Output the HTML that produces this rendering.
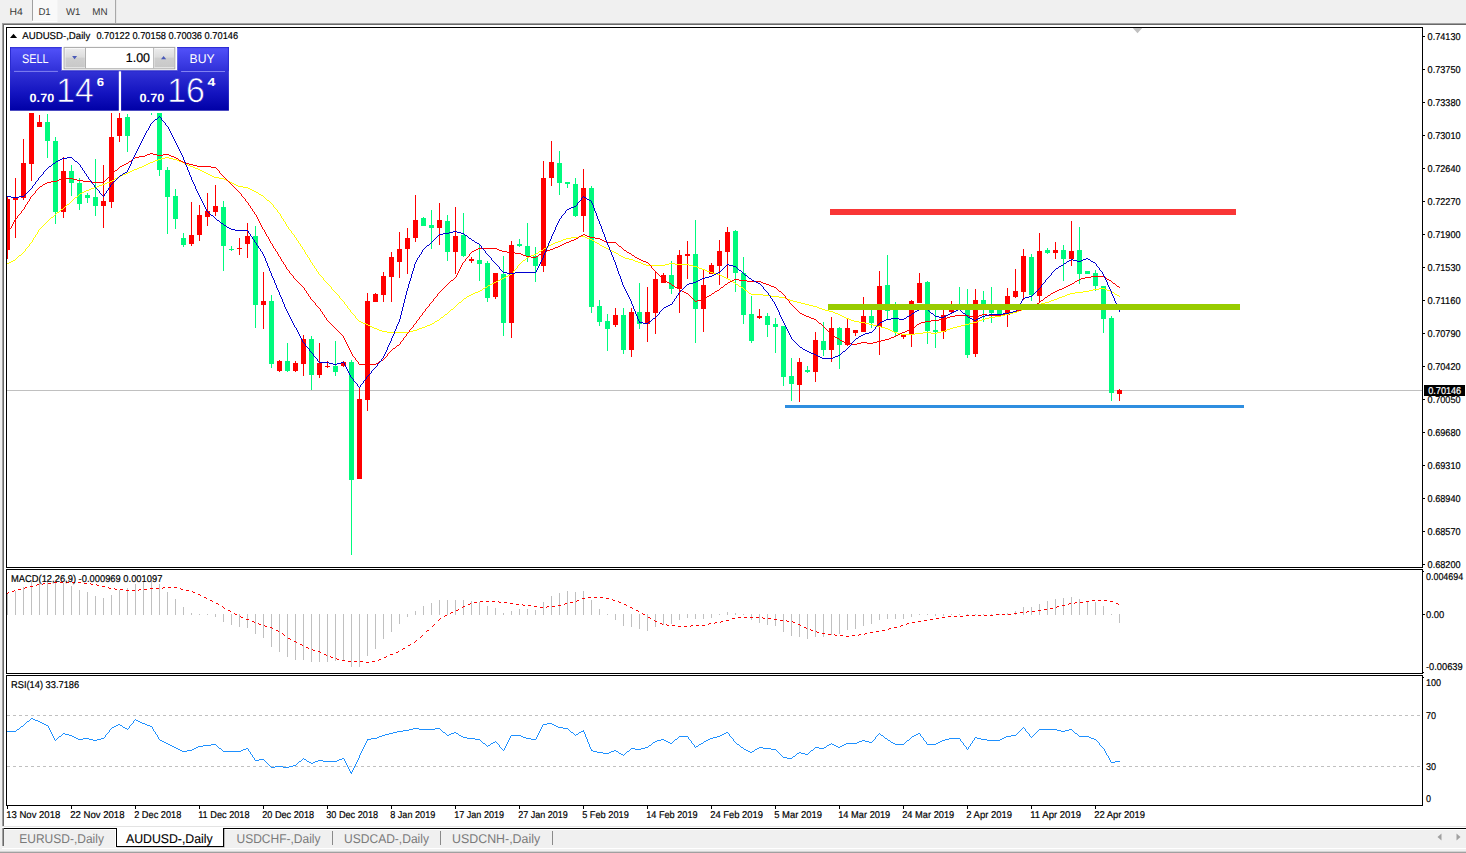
<!DOCTYPE html>
<html><head><meta charset="utf-8"><title>AUDUSD-,Daily</title>
<style>
html,body{margin:0;padding:0;background:#f0f0f0;overflow:hidden}
svg{display:block;font-family:"Liberation Sans",sans-serif;text-rendering:geometricPrecision}
text{white-space:pre}
</style></head><body>
<svg width="1466" height="853" viewBox="0 0 1466 853">
<rect x="0" y="0" width="1466" height="853" fill="#f0f0f0" />
<rect x="32" y="0" width="1" height="20.8" fill="#a0a0a0" />
<rect x="33" y="0" width="24.4" height="20.8" fill="#f9f9f9" />
<rect x="32" y="20.8" width="25.4" height="1.2" fill="#ffffff" />
<rect x="115.1" y="0" width="1" height="23" fill="#a0a0a0" />
<text x="9.4" y="15" font-size="9.9" fill="#3a3a3a" textLength="13.3" lengthAdjust="spacingAndGlyphs" >H4</text>
<text x="38.4" y="15" font-size="9.9" fill="#3a3a3a" textLength="12.3" lengthAdjust="spacingAndGlyphs" >D1</text>
<text x="65.9" y="15" font-size="9.9" fill="#3a3a3a" textLength="14.5" lengthAdjust="spacingAndGlyphs" >W1</text>
<text x="92.3" y="15" font-size="9.9" fill="#3a3a3a" textLength="15.3" lengthAdjust="spacingAndGlyphs" >MN</text>
<rect x="2" y="23" width="1464" height="1" fill="#a0a0a0" />
<rect x="3" y="24" width="1463" height="1" fill="#696969" />
<rect x="2" y="23" width="1" height="804" fill="#a0a0a0" />
<rect x="3" y="24" width="1" height="803" fill="#696969" />
<rect x="4" y="25" width="1462" height="801" fill="#ffffff" />
<g shape-rendering="crispEdges">
<rect x="6" y="27" width="1" height="541" fill="#000" />
<rect x="6" y="27" width="1417" height="1" fill="#000" />
<rect x="6" y="567" width="1417" height="1" fill="#000" />
<rect x="1422" y="27" width="1" height="541" fill="#000" />
<rect x="6" y="569" width="1417" height="1" fill="#000" />
<rect x="6" y="569" width="1" height="105" fill="#000" />
<rect x="6" y="673" width="1417" height="1" fill="#000" />
<rect x="1422" y="569" width="1" height="105" fill="#000" />
<rect x="6" y="675" width="1417" height="1" fill="#000" />
<rect x="6" y="675" width="1" height="131" fill="#000" />
<rect x="6" y="805" width="1417" height="1" fill="#000" />
<rect x="1422" y="675" width="1" height="131" fill="#000" />
</g>
<clipPath id="cm"><rect x="7" y="28" width="1415" height="539"/></clipPath>
<g clip-path="url(#cm)">
<rect x="7" y="390" width="1415" height="1" fill="#c0c0c0" />
<g shape-rendering="crispEdges">
<rect x="7" y="196" width="1" height="62.75" fill="#ff0000" />
<rect x="5" y="198.75" width="5" height="51.25" fill="#ff0000" />
<rect x="15" y="178.25" width="1" height="59.25" fill="#ff0000" />
<rect x="13" y="198" width="5" height="2" fill="#ff0000" />
<rect x="23" y="138.75" width="1" height="61.25" fill="#ff0000" />
<rect x="21" y="163" width="5" height="35" fill="#ff0000" />
<rect x="31" y="100" width="1" height="81.25" fill="#ff0000" />
<rect x="29" y="100" width="5" height="63.75" fill="#ff0000" />
<rect x="39" y="114.8" width="1" height="12.2" fill="#ff0000" />
<rect x="37" y="121.9" width="5" height="5" fill="#ff0000" />
<rect x="47" y="114" width="1" height="43.5" fill="#00fa7d" />
<rect x="45" y="121.9" width="5" height="19.35" fill="#00fa7d" />
<rect x="55" y="137" width="1" height="86.75" fill="#00fa7d" />
<rect x="53" y="141.25" width="5" height="70.5" fill="#00fa7d" />
<rect x="63" y="157" width="1" height="61" fill="#ff0000" />
<rect x="61" y="171.25" width="5" height="40.5" fill="#ff0000" />
<rect x="71" y="165" width="1" height="31.25" fill="#00fa7d" />
<rect x="69" y="171.25" width="5" height="11.75" fill="#00fa7d" />
<rect x="79" y="177.5" width="1" height="32.5" fill="#00fa7d" />
<rect x="77" y="182.5" width="5" height="21.25" fill="#00fa7d" />
<rect x="87" y="193" width="1" height="10" fill="#00fa7d" />
<rect x="85" y="195" width="5" height="2.5" fill="#00fa7d" />
<rect x="95" y="159.25" width="1" height="56.5" fill="#00fa7d" />
<rect x="93" y="197" width="5" height="9.25" fill="#00fa7d" />
<rect x="103" y="165" width="1" height="63" fill="#ff0000" />
<rect x="101" y="201.25" width="5" height="5" fill="#ff0000" />
<rect x="111" y="100" width="1" height="108" fill="#ff0000" />
<rect x="109" y="137" width="5" height="65" fill="#ff0000" />
<rect x="119" y="100" width="1" height="42" fill="#ff0000" />
<rect x="117" y="117.9" width="5" height="17.85" fill="#ff0000" />
<rect x="127" y="113.75" width="1" height="38.25" fill="#00fa7d" />
<rect x="125" y="116.9" width="5" height="18.85" fill="#00fa7d" />
<rect x="151" y="100" width="1" height="14.5" fill="#00fa7d" />
<rect x="149" y="100" width="5" height="5" fill="#00fa7d" />
<rect x="159" y="100" width="1" height="75.5" fill="#00fa7d" />
<rect x="157" y="100" width="5" height="69.5" fill="#00fa7d" />
<rect x="167" y="167" width="1" height="66.75" fill="#00fa7d" />
<rect x="165" y="169.5" width="5" height="27.5" fill="#00fa7d" />
<rect x="175" y="188.75" width="1" height="40" fill="#00fa7d" />
<rect x="173" y="196.25" width="5" height="22.5" fill="#00fa7d" />
<rect x="183" y="232.5" width="1" height="14.5" fill="#00fa7d" />
<rect x="181" y="238" width="5" height="7" fill="#00fa7d" />
<rect x="191" y="202" width="1" height="44.25" fill="#ff0000" />
<rect x="189" y="234.5" width="5" height="9.25" fill="#ff0000" />
<rect x="199" y="204.5" width="1" height="36.75" fill="#ff0000" />
<rect x="197" y="215" width="5" height="20" fill="#ff0000" />
<rect x="207" y="193" width="1" height="33.25" fill="#ff0000" />
<rect x="205" y="211.25" width="5" height="5.75" fill="#ff0000" />
<rect x="215" y="185" width="1" height="30.5" fill="#ff0000" />
<rect x="213" y="206.25" width="5" height="5.75" fill="#ff0000" />
<rect x="223" y="201.25" width="1" height="70" fill="#00fa7d" />
<rect x="221" y="207" width="5" height="38.75" fill="#00fa7d" />
<rect x="231" y="245.75" width="1" height="5.5" fill="#00fa7d" />
<rect x="229" y="248.5" width="5" height="1" fill="#00fa7d" />
<rect x="239" y="238" width="1" height="17" fill="#ff0000" />
<rect x="237" y="247.5" width="5" height="1.5" fill="#ff0000" />
<rect x="247" y="223" width="1" height="35" fill="#ff0000" />
<rect x="245" y="236.25" width="5" height="8" fill="#ff0000" />
<rect x="255" y="226.25" width="1" height="101.25" fill="#00fa7d" />
<rect x="253" y="236.25" width="5" height="68.25" fill="#00fa7d" />
<rect x="263" y="272" width="1" height="56.75" fill="#ff0000" />
<rect x="261" y="300.75" width="5" height="3.75" fill="#ff0000" />
<rect x="271" y="295" width="1" height="72.5" fill="#00fa7d" />
<rect x="269" y="300.75" width="5" height="63" fill="#00fa7d" />
<rect x="279" y="359.5" width="1" height="12.5" fill="#ff0000" />
<rect x="277" y="361.25" width="5" height="9.25" fill="#ff0000" />
<rect x="287" y="343" width="1" height="29" fill="#00fa7d" />
<rect x="285" y="361.25" width="5" height="9.25" fill="#00fa7d" />
<rect x="295" y="361.25" width="1" height="10.75" fill="#ff0000" />
<rect x="293" y="363.25" width="5" height="7.25" fill="#ff0000" />
<rect x="303" y="335" width="1" height="40.5" fill="#ff0000" />
<rect x="301" y="339.25" width="5" height="24.5" fill="#ff0000" />
<rect x="311" y="336.25" width="1" height="53.75" fill="#00fa7d" />
<rect x="309" y="338.75" width="5" height="35.75" fill="#00fa7d" />
<rect x="319" y="343" width="1" height="35" fill="#ff0000" />
<rect x="317" y="362.5" width="5" height="12.5" fill="#ff0000" />
<rect x="327" y="361.25" width="1" height="6.75" fill="#ff0000" />
<rect x="325" y="365.75" width="5" height="1" fill="#ff0000" />
<rect x="335" y="341.25" width="1" height="34.5" fill="#00fa7d" />
<rect x="333" y="365.75" width="5" height="6" fill="#00fa7d" />
<rect x="343" y="360.5" width="1" height="6.5" fill="#ff0000" />
<rect x="341" y="361.75" width="5" height="4.5" fill="#ff0000" />
<rect x="351" y="360" width="1" height="195" fill="#00fa7d" />
<rect x="349" y="362" width="5" height="117.5" fill="#00fa7d" />
<rect x="359" y="388" width="1" height="90.75" fill="#ff0000" />
<rect x="357" y="399.25" width="5" height="79.5" fill="#ff0000" />
<rect x="367" y="293" width="1" height="117.75" fill="#ff0000" />
<rect x="365" y="301.25" width="5" height="98.25" fill="#ff0000" />
<rect x="375" y="292.8" width="1" height="8.7" fill="#ff0000" />
<rect x="373" y="294.3" width="5" height="7.2" fill="#ff0000" />
<rect x="383" y="271.6" width="1" height="30.7" fill="#ff0000" />
<rect x="381" y="276" width="5" height="18.8" fill="#ff0000" />
<rect x="391" y="251.9" width="1" height="49.7" fill="#ff0000" />
<rect x="389" y="257.4" width="5" height="19.2" fill="#ff0000" />
<rect x="399" y="232.4" width="1" height="45.4" fill="#ff0000" />
<rect x="397" y="249.1" width="5" height="12.5" fill="#ff0000" />
<rect x="407" y="228.2" width="1" height="46.1" fill="#ff0000" />
<rect x="405" y="237.9" width="5" height="11.2" fill="#ff0000" />
<rect x="415" y="195.4" width="1" height="47" fill="#ff0000" />
<rect x="413" y="220.2" width="5" height="17.7" fill="#ff0000" />
<rect x="423" y="217" width="1" height="8.7" fill="#00fa7d" />
<rect x="421" y="217.9" width="5" height="7.8" fill="#00fa7d" />
<rect x="431" y="210" width="1" height="38.6" fill="#00fa7d" />
<rect x="429" y="224.9" width="5" height="3" fill="#00fa7d" />
<rect x="439" y="203" width="1" height="41.9" fill="#ff0000" />
<rect x="437" y="220.2" width="5" height="7.7" fill="#ff0000" />
<rect x="447" y="215" width="1" height="45.6" fill="#00fa7d" />
<rect x="445" y="221.2" width="5" height="30.4" fill="#00fa7d" />
<rect x="455" y="207" width="1" height="67.1" fill="#ff0000" />
<rect x="453" y="236.1" width="5" height="15.5" fill="#ff0000" />
<rect x="463" y="213" width="1" height="43.9" fill="#00fa7d" />
<rect x="461" y="234.9" width="5" height="21.2" fill="#00fa7d" />
<rect x="471" y="257.4" width="1" height="5.5" fill="#ff0000" />
<rect x="469" y="258.9" width="5" height="1.7" fill="#ff0000" />
<rect x="479" y="243.6" width="1" height="37" fill="#00fa7d" />
<rect x="477" y="259.9" width="5" height="3.7" fill="#00fa7d" />
<rect x="487" y="261.1" width="1" height="40.5" fill="#00fa7d" />
<rect x="485" y="263.1" width="5" height="34.7" fill="#00fa7d" />
<rect x="495" y="273.1" width="1" height="25.5" fill="#ff0000" />
<rect x="493" y="273.1" width="5" height="23.7" fill="#ff0000" />
<rect x="503" y="256.1" width="1" height="79.9" fill="#00fa7d" />
<rect x="501" y="273.6" width="5" height="49.2" fill="#00fa7d" />
<rect x="511" y="241.1" width="1" height="96.7" fill="#ff0000" />
<rect x="509" y="244.9" width="5" height="77.9" fill="#ff0000" />
<rect x="519" y="238.6" width="1" height="8.3" fill="#00fa7d" />
<rect x="517" y="243.6" width="5" height="2" fill="#00fa7d" />
<rect x="527" y="222.9" width="1" height="39.5" fill="#00fa7d" />
<rect x="525" y="246.1" width="5" height="10" fill="#00fa7d" />
<rect x="535" y="246.9" width="1" height="34.9" fill="#00fa7d" />
<rect x="533" y="256.1" width="5" height="9.5" fill="#00fa7d" />
<rect x="543" y="161.2" width="1" height="110.6" fill="#ff0000" />
<rect x="541" y="178.2" width="5" height="87.4" fill="#ff0000" />
<rect x="551" y="141" width="1" height="44.7" fill="#ff0000" />
<rect x="549" y="161.7" width="5" height="16.5" fill="#ff0000" />
<rect x="559" y="151.2" width="1" height="43.7" fill="#00fa7d" />
<rect x="557" y="163.2" width="5" height="19.3" fill="#00fa7d" />
<rect x="567" y="182" width="1" height="6" fill="#00fa7d" />
<rect x="565" y="182" width="5" height="1.7" fill="#00fa7d" />
<rect x="575" y="178" width="1" height="38.9" fill="#00fa7d" />
<rect x="573" y="184.2" width="5" height="32" fill="#00fa7d" />
<rect x="583" y="168.7" width="1" height="63.7" fill="#ff0000" />
<rect x="581" y="188" width="5" height="27.7" fill="#ff0000" />
<rect x="591" y="186.2" width="1" height="126.6" fill="#00fa7d" />
<rect x="589" y="188" width="5" height="118.6" fill="#00fa7d" />
<rect x="599" y="299.8" width="1" height="25.7" fill="#00fa7d" />
<rect x="597" y="306" width="5" height="15.8" fill="#00fa7d" />
<rect x="607" y="314" width="1" height="37" fill="#00fa7d" />
<rect x="605" y="321" width="5" height="7.5" fill="#00fa7d" />
<rect x="615" y="307.8" width="1" height="19" fill="#ff0000" />
<rect x="613" y="314.8" width="5" height="10" fill="#ff0000" />
<rect x="623" y="307.8" width="1" height="45.7" fill="#00fa7d" />
<rect x="621" y="314.8" width="5" height="35" fill="#00fa7d" />
<rect x="631" y="307.8" width="1" height="48.9" fill="#ff0000" />
<rect x="629" y="311.8" width="5" height="38" fill="#ff0000" />
<rect x="639" y="283.1" width="1" height="46.2" fill="#00fa7d" />
<rect x="637" y="312.3" width="5" height="11.2" fill="#00fa7d" />
<rect x="647" y="286.8" width="1" height="55" fill="#ff0000" />
<rect x="645" y="312.3" width="5" height="11.2" fill="#ff0000" />
<rect x="655" y="272.3" width="1" height="61.2" fill="#ff0000" />
<rect x="653" y="279.1" width="5" height="33.9" fill="#ff0000" />
<rect x="663" y="272.8" width="1" height="10" fill="#ff0000" />
<rect x="661" y="274.8" width="5" height="8" fill="#ff0000" />
<rect x="671" y="261.1" width="1" height="32.5" fill="#00fa7d" />
<rect x="669" y="274.8" width="5" height="13.8" fill="#00fa7d" />
<rect x="679" y="249.9" width="1" height="62.9" fill="#ff0000" />
<rect x="677" y="254.9" width="5" height="33.7" fill="#ff0000" />
<rect x="687" y="241.1" width="1" height="38.2" fill="#ff0000" />
<rect x="685" y="254.1" width="5" height="1.5" fill="#ff0000" />
<rect x="695" y="220.4" width="1" height="122.4" fill="#00fa7d" />
<rect x="693" y="254.1" width="5" height="54.5" fill="#00fa7d" />
<rect x="703" y="269.9" width="1" height="61.9" fill="#ff0000" />
<rect x="701" y="284.8" width="5" height="23.8" fill="#ff0000" />
<rect x="711" y="262.9" width="1" height="10.8" fill="#ff0000" />
<rect x="709" y="264.9" width="5" height="8.8" fill="#ff0000" />
<rect x="719" y="240" width="1" height="44.9" fill="#ff0000" />
<rect x="717" y="251.2" width="5" height="14.5" fill="#ff0000" />
<rect x="727" y="227" width="1" height="50.9" fill="#ff0000" />
<rect x="725" y="231.7" width="5" height="20" fill="#ff0000" />
<rect x="735" y="229.5" width="1" height="62.1" fill="#00fa7d" />
<rect x="733" y="230.7" width="5" height="42.2" fill="#00fa7d" />
<rect x="743" y="256.9" width="1" height="67.4" fill="#00fa7d" />
<rect x="741" y="273.2" width="5" height="41.7" fill="#00fa7d" />
<rect x="751" y="296.1" width="1" height="46.7" fill="#00fa7d" />
<rect x="749" y="314.1" width="5" height="27" fill="#00fa7d" />
<rect x="759" y="309.1" width="1" height="10.3" fill="#ff0000" />
<rect x="757" y="316.1" width="5" height="1.8" fill="#ff0000" />
<rect x="767" y="312.9" width="1" height="24.4" fill="#00fa7d" />
<rect x="765" y="316.1" width="5" height="9.2" fill="#00fa7d" />
<rect x="775" y="317.9" width="1" height="34.9" fill="#00fa7d" />
<rect x="773" y="324.1" width="5" height="3.2" fill="#00fa7d" />
<rect x="783" y="326.1" width="1" height="59.9" fill="#00fa7d" />
<rect x="781" y="326.1" width="5" height="50.4" fill="#00fa7d" />
<rect x="791" y="357.8" width="1" height="43.2" fill="#00fa7d" />
<rect x="789" y="376" width="5" height="8" fill="#00fa7d" />
<rect x="799" y="357.8" width="1" height="43.9" fill="#ff0000" />
<rect x="797" y="361.8" width="5" height="23" fill="#ff0000" />
<rect x="807" y="365.5" width="1" height="7.5" fill="#00fa7d" />
<rect x="805" y="369.8" width="5" height="2" fill="#00fa7d" />
<rect x="815" y="331.8" width="1" height="50" fill="#ff0000" />
<rect x="813" y="340.3" width="5" height="31.5" fill="#ff0000" />
<rect x="823" y="321.8" width="1" height="34.2" fill="#00fa7d" />
<rect x="821" y="341.1" width="5" height="8.7" fill="#00fa7d" />
<rect x="831" y="317.4" width="1" height="44.4" fill="#ff0000" />
<rect x="829" y="328.1" width="5" height="21.7" fill="#ff0000" />
<rect x="839" y="326.6" width="1" height="42.4" fill="#00fa7d" />
<rect x="837" y="327.8" width="5" height="17" fill="#00fa7d" />
<rect x="847" y="319.1" width="1" height="26.5" fill="#ff0000" />
<rect x="845" y="328.1" width="5" height="16.7" fill="#ff0000" />
<rect x="855" y="330.1" width="1" height="6" fill="#ff0000" />
<rect x="853" y="330.1" width="5" height="2.7" fill="#ff0000" />
<rect x="863" y="297.4" width="1" height="34.2" fill="#ff0000" />
<rect x="861" y="315.6" width="5" height="16" fill="#ff0000" />
<rect x="871" y="309.9" width="1" height="17.9" fill="#00fa7d" />
<rect x="869" y="316.1" width="5" height="7" fill="#00fa7d" />
<rect x="879" y="271.2" width="1" height="83.6" fill="#ff0000" />
<rect x="877" y="286.1" width="5" height="41.2" fill="#ff0000" />
<rect x="887" y="254.9" width="1" height="65" fill="#00fa7d" />
<rect x="885" y="284.9" width="5" height="25.7" fill="#00fa7d" />
<rect x="895" y="301.9" width="1" height="34.2" fill="#00fa7d" />
<rect x="893" y="309.9" width="5" height="22.4" fill="#00fa7d" />
<rect x="903" y="333.6" width="1" height="5.5" fill="#ff0000" />
<rect x="901" y="333.6" width="5" height="3.2" fill="#ff0000" />
<rect x="911" y="299.9" width="1" height="46.9" fill="#ff0000" />
<rect x="909" y="301.1" width="5" height="32.5" fill="#ff0000" />
<rect x="919" y="272.9" width="1" height="30.2" fill="#ff0000" />
<rect x="917" y="283.1" width="5" height="20" fill="#ff0000" />
<rect x="927" y="280.6" width="1" height="63.5" fill="#00fa7d" />
<rect x="925" y="281.9" width="5" height="48.7" fill="#00fa7d" />
<rect x="935" y="306" width="1" height="41.8" fill="#00fa7d" />
<rect x="933" y="329.8" width="5" height="2.5" fill="#00fa7d" />
<rect x="943" y="309.9" width="1" height="29.2" fill="#ff0000" />
<rect x="941" y="315.4" width="5" height="16.4" fill="#ff0000" />
<rect x="951" y="301.1" width="1" height="12.5" fill="#ff0000" />
<rect x="949" y="309.9" width="5" height="2" fill="#ff0000" />
<rect x="959" y="286.9" width="1" height="23" fill="#00fa7d" />
<rect x="957" y="304.9" width="5" height="5" fill="#00fa7d" />
<rect x="967" y="288.6" width="1" height="69.2" fill="#00fa7d" />
<rect x="965" y="309.9" width="5" height="44.9" fill="#00fa7d" />
<rect x="975" y="288.6" width="1" height="68.2" fill="#ff0000" />
<rect x="973" y="299.9" width="5" height="53.7" fill="#ff0000" />
<rect x="983" y="291.1" width="1" height="30.5" fill="#00fa7d" />
<rect x="981" y="299.9" width="5" height="5.1" fill="#00fa7d" />
<rect x="991" y="286.9" width="1" height="35.9" fill="#00fa7d" />
<rect x="989" y="309.9" width="5" height="3" fill="#00fa7d" />
<rect x="999" y="309.9" width="1" height="5.5" fill="#00fa7d" />
<rect x="997" y="309.9" width="5" height="5.5" fill="#00fa7d" />
<rect x="1007" y="287.9" width="1" height="38.9" fill="#ff0000" />
<rect x="1005" y="296.1" width="5" height="18.8" fill="#ff0000" />
<rect x="1015" y="269.2" width="1" height="28.7" fill="#ff0000" />
<rect x="1013" y="291.1" width="5" height="5.8" fill="#ff0000" />
<rect x="1023" y="249.2" width="1" height="50.7" fill="#ff0000" />
<rect x="1021" y="256.2" width="5" height="35.4" fill="#ff0000" />
<rect x="1031" y="253.7" width="1" height="47.4" fill="#00fa7d" />
<rect x="1029" y="256.9" width="5" height="38.5" fill="#00fa7d" />
<rect x="1039" y="233" width="1" height="69.4" fill="#ff0000" />
<rect x="1037" y="251.2" width="5" height="44.4" fill="#ff0000" />
<rect x="1047" y="248" width="1" height="5.7" fill="#00fa7d" />
<rect x="1045" y="250" width="5" height="3" fill="#00fa7d" />
<rect x="1055" y="242" width="1" height="16.7" fill="#ff0000" />
<rect x="1053" y="250" width="5" height="3" fill="#ff0000" />
<rect x="1063" y="245" width="1" height="36.1" fill="#00fa7d" />
<rect x="1061" y="250" width="5" height="9.2" fill="#00fa7d" />
<rect x="1071" y="221.2" width="1" height="45" fill="#ff0000" />
<rect x="1069" y="251.2" width="5" height="8" fill="#ff0000" />
<rect x="1079" y="227" width="1" height="56.6" fill="#00fa7d" />
<rect x="1077" y="250" width="5" height="24.4" fill="#00fa7d" />
<rect x="1087" y="270.7" width="1" height="3" fill="#00fa7d" />
<rect x="1085" y="270.7" width="5" height="3" fill="#00fa7d" />
<rect x="1095" y="270" width="1" height="21.1" fill="#00fa7d" />
<rect x="1093" y="272.9" width="5" height="13.2" fill="#00fa7d" />
<rect x="1103" y="286.1" width="1" height="46.7" fill="#00fa7d" />
<rect x="1101" y="286.1" width="5" height="33" fill="#00fa7d" />
<rect x="1111" y="316.1" width="1" height="84.9" fill="#00fa7d" />
<rect x="1109" y="317.9" width="5" height="74.9" fill="#00fa7d" />
<rect x="1119" y="388.5" width="1" height="12.5" fill="#ff0000" />
<rect x="1117" y="390.3" width="5" height="3.2" fill="#ff0000" />
</g>
<path fill="#ffff00" shape-rendering="crispEdges" d="M165 157h4v1h-4zM161 158h4v1h-4zM169 158h4v1h-4zM158 159h3v1h-3zM173 159h4v1h-4zM155 160h3v1h-3zM177 160h2v1h-2zM153 161h2v1h-2zM179 161h3v1h-3zM150 162h3v1h-3zM182 162h2v1h-2zM148 163h2v1h-2zM184 163h2v1h-2zM146 164h2v1h-2zM186 164h2v1h-2zM144 165h2v1h-2zM188 165h2v1h-2zM142 166h2v1h-2zM190 166h3v1h-3zM139 167h3v1h-3zM193 167h2v1h-2zM137 168h2v1h-2zM195 168h3v1h-3zM134 169h3v1h-3zM198 169h2v1h-2zM132 170h2v1h-2zM200 170h2v1h-2zM130 171h2v1h-2zM202 171h2v1h-2zM128 172h2v1h-2zM204 172h2v1h-2zM126 173h2v1h-2zM206 173h2v1h-2zM123 174h3v1h-3zM208 174h2v1h-2zM121 175h2v1h-2zM210 175h2v1h-2zM119 176h2v1h-2zM212 176h2v1h-2zM117 177h2v1h-2zM214 177h5v1h-5zM115 178h2v1h-2zM219 178h5v1h-5zM114 179h1v1h-1zM224 179h2v1h-2zM112 180h2v1h-2zM226 180h2v1h-2zM110 181h2v1h-2zM228 181h2v1h-2zM107 182h3v1h-3zM230 182h2v1h-2zM105 183h2v1h-2zM232 183h2v1h-2zM102 184h3v1h-3zM234 184h2v1h-2zM99 185h3v1h-3zM236 185h2v1h-2zM97 186h2v1h-2zM238 186h5v1h-5zM94 187h3v1h-3zM243 187h5v1h-5zM91 188h3v1h-3zM248 188h2v1h-2zM89 189h2v1h-2zM250 189h2v1h-2zM86 190h3v1h-3zM252 190h2v1h-2zM84 191h2v1h-2zM254 191h2v1h-2zM82 192h2v1h-2zM256 192h2v1h-2zM80 193h2v1h-2zM258 193h1v1h-1zM79 194h1v1h-1zM259 194h2v1h-2zM78 195h1v1h-1zM261 195h2v1h-2zM77 196h1v1h-1zM263 196h1v1h-1zM75 197h2v1h-2zM264 197h1v1h-1zM74 198h1v1h-1zM265 198h1v1h-1zM73 199h1v1h-1zM266 199h1v1h-1zM72 200h1v1h-1zM267 200h2v1h-2zM71 201h1v1h-1zM269 201h1v1h-1zM70 202h1v1h-1zM270 202h1v1h-1zM69 203h1v1h-1zM271 203h1v1h-1zM67 204h2v1h-2zM272 204h1v1h-1zM66 205h1v1h-1zM273 205h1v1h-1zM65 206h1v1h-1zM273 206h1v1h-1zM64 207h1v1h-1zM274 207h1v1h-1zM63 208h1v1h-1zM275 208h1v1h-1zM61 209h2v1h-2zM276 209h1v1h-1zM60 210h1v1h-1zM277 210h1v1h-1zM59 211h1v1h-1zM277 211h1v1h-1zM57 212h2v1h-2zM278 212h1v1h-1zM56 213h1v1h-1zM279 213h1v1h-1zM55 214h1v1h-1zM280 214h1v1h-1zM54 215h1v1h-1zM280 215h1v1h-1zM53 216h1v1h-1zM281 216h1v1h-1zM51 217h2v1h-2zM281 217h1v1h-1zM50 218h1v1h-1zM282 218h1v1h-1zM49 219h1v1h-1zM283 219h1v1h-1zM48 220h1v1h-1zM283 220h1v1h-1zM47 221h1v1h-1zM284 221h1v1h-1zM46 222h1v1h-1zM285 222h1v1h-1zM45 223h1v1h-1zM285 223h1v1h-1zM44 224h1v1h-1zM286 224h1v1h-1zM43 225h1v1h-1zM286 225h1v1h-1zM42 226h1v1h-1zM287 226h1v1h-1zM41 227h1v1h-1zM288 227h1v1h-1zM40 228h1v1h-1zM288 228h1v1h-1zM39 229h1v1h-1zM289 229h1v1h-1zM38 230h1v1h-1zM290 230h1v1h-1zM38 231h1v1h-1zM291 231h1v1h-1zM37 232h1v1h-1zM291 232h1v1h-1zM37 233h1v1h-1zM292 233h1v1h-1zM36 234h1v1h-1zM293 234h1v1h-1zM35 235h1v1h-1zM294 235h1v1h-1zM35 236h1v1h-1zM294 236h1v1h-1zM579 236h6v1h-6zM34 237h1v1h-1zM295 237h1v1h-1zM571 237h8v1h-8zM585 237h2v1h-2zM33 238h1v1h-1zM296 238h1v1h-1zM566 238h5v1h-5zM587 238h3v1h-3zM33 239h1v1h-1zM296 239h1v1h-1zM563 239h3v1h-3zM590 239h2v1h-2zM32 240h1v1h-1zM297 240h1v1h-1zM561 240h2v1h-2zM592 240h2v1h-2zM32 241h1v1h-1zM298 241h1v1h-1zM558 241h3v1h-3zM594 241h1v1h-1zM31 242h1v1h-1zM298 242h1v1h-1zM555 242h3v1h-3zM595 242h2v1h-2zM30 243h1v1h-1zM299 243h1v1h-1zM553 243h2v1h-2zM597 243h2v1h-2zM29 244h1v1h-1zM300 244h1v1h-1zM551 244h2v1h-2zM599 244h1v1h-1zM29 245h1v1h-1zM300 245h1v1h-1zM549 245h2v1h-2zM600 245h2v1h-2zM28 246h1v1h-1zM301 246h1v1h-1zM547 246h2v1h-2zM602 246h2v1h-2zM27 247h1v1h-1zM302 247h1v1h-1zM546 247h1v1h-1zM604 247h2v1h-2zM26 248h1v1h-1zM302 248h1v1h-1zM544 248h2v1h-2zM606 248h2v1h-2zM25 249h1v1h-1zM303 249h1v1h-1zM543 249h1v1h-1zM608 249h2v1h-2zM25 250h1v1h-1zM304 250h1v1h-1zM541 250h2v1h-2zM610 250h2v1h-2zM24 251h1v1h-1zM304 251h1v1h-1zM539 251h2v1h-2zM612 251h2v1h-2zM23 252h1v1h-1zM305 252h1v1h-1zM538 252h1v1h-1zM614 252h2v1h-2zM22 253h1v1h-1zM305 253h1v1h-1zM536 253h2v1h-2zM616 253h2v1h-2zM21 254h1v1h-1zM306 254h1v1h-1zM534 254h2v1h-2zM618 254h1v1h-1zM19 255h2v1h-2zM307 255h1v1h-1zM531 255h3v1h-3zM619 255h2v1h-2zM18 256h1v1h-1zM307 256h1v1h-1zM529 256h2v1h-2zM621 256h2v1h-2zM17 257h1v1h-1zM308 257h1v1h-1zM527 257h2v1h-2zM623 257h2v1h-2zM16 258h1v1h-1zM309 258h1v1h-1zM526 258h1v1h-1zM625 258h4v1h-4zM15 259h1v1h-1zM309 259h1v1h-1zM525 259h1v1h-1zM629 259h4v1h-4zM13 260h2v1h-2zM310 260h1v1h-1zM523 260h2v1h-2zM633 260h2v1h-2zM11 261h2v1h-2zM310 261h1v1h-1zM522 261h1v1h-1zM635 261h3v1h-3zM9 262h2v1h-2zM311 262h1v1h-1zM521 262h1v1h-1zM638 262h3v1h-3zM7 263h2v1h-2zM312 263h1v1h-1zM520 263h1v1h-1zM641 263h2v1h-2zM669 263h6v1h-6zM6 264h1v1h-1zM312 264h1v1h-1zM519 264h1v1h-1zM643 264h3v1h-3zM665 264h4v1h-4zM675 264h14v1h-14zM313 265h1v1h-1zM518 265h1v1h-1zM646 265h19v1h-19zM689 265h4v1h-4zM314 266h1v1h-1zM517 266h1v1h-1zM693 266h4v1h-4zM314 267h1v1h-1zM517 267h1v1h-1zM697 267h2v1h-2zM315 268h1v1h-1zM516 268h1v1h-1zM699 268h3v1h-3zM316 269h1v1h-1zM515 269h1v1h-1zM702 269h3v1h-3zM316 270h1v1h-1zM514 270h1v1h-1zM705 270h2v1h-2zM317 271h1v1h-1zM513 271h1v1h-1zM707 271h3v1h-3zM318 272h1v1h-1zM513 272h1v1h-1zM710 272h3v1h-3zM318 273h1v1h-1zM512 273h1v1h-1zM713 273h4v1h-4zM319 274h1v1h-1zM510 274h2v1h-2zM717 274h3v1h-3zM320 275h1v1h-1zM508 275h2v1h-2zM720 275h2v1h-2zM321 276h1v1h-1zM506 276h2v1h-2zM722 276h2v1h-2zM322 277h1v1h-1zM504 277h2v1h-2zM724 277h2v1h-2zM323 278h1v1h-1zM502 278h2v1h-2zM726 278h2v1h-2zM323 279h1v1h-1zM500 279h2v1h-2zM728 279h2v1h-2zM324 280h1v1h-1zM498 280h2v1h-2zM730 280h1v1h-1zM325 281h1v1h-1zM496 281h2v1h-2zM731 281h2v1h-2zM326 282h1v1h-1zM494 282h2v1h-2zM733 282h2v1h-2zM327 283h1v1h-1zM492 283h2v1h-2zM735 283h1v1h-1zM328 284h1v1h-1zM490 284h2v1h-2zM736 284h2v1h-2zM329 285h1v1h-1zM488 285h2v1h-2zM738 285h1v1h-1zM330 286h1v1h-1zM487 286h1v1h-1zM739 286h2v1h-2zM331 287h1v1h-1zM485 287h2v1h-2zM741 287h2v1h-2zM331 288h1v1h-1zM483 288h2v1h-2zM743 288h1v1h-1zM1099 288h6v1h-6zM332 289h1v1h-1zM482 289h1v1h-1zM744 289h1v1h-1zM1093 289h6v1h-6zM1105 289h2v1h-2zM333 290h1v1h-1zM480 290h2v1h-2zM745 290h2v1h-2zM1089 290h4v1h-4zM1107 290h3v1h-3zM334 291h1v1h-1zM478 291h2v1h-2zM747 291h1v1h-1zM1083 291h6v1h-6zM1110 291h2v1h-2zM335 292h1v1h-1zM475 292h3v1h-3zM748 292h1v1h-1zM1075 292h8v1h-8zM1112 292h2v1h-2zM336 293h1v1h-1zM473 293h2v1h-2zM749 293h2v1h-2zM1070 293h5v1h-5zM1114 293h1v1h-1zM337 294h1v1h-1zM471 294h2v1h-2zM751 294h12v1h-12zM1067 294h3v1h-3zM1115 294h2v1h-2zM338 295h1v1h-1zM469 295h2v1h-2zM763 295h8v1h-8zM1065 295h2v1h-2zM1117 295h2v1h-2zM339 296h1v1h-1zM467 296h2v1h-2zM771 296h8v1h-8zM1062 296h3v1h-3zM1119 296h1v1h-1zM339 297h1v1h-1zM466 297h1v1h-1zM779 297h6v1h-6zM1059 297h3v1h-3zM340 298h1v1h-1zM464 298h2v1h-2zM785 298h2v1h-2zM1057 298h2v1h-2zM341 299h1v1h-1zM463 299h1v1h-1zM787 299h3v1h-3zM1054 299h3v1h-3zM342 300h1v1h-1zM462 300h1v1h-1zM790 300h3v1h-3zM1051 300h3v1h-3zM343 301h1v1h-1zM461 301h1v1h-1zM793 301h4v1h-4zM1049 301h2v1h-2zM344 302h1v1h-1zM459 302h2v1h-2zM797 302h4v1h-4zM1045 302h4v1h-4zM344 303h1v1h-1zM458 303h1v1h-1zM801 303h4v1h-4zM1041 303h4v1h-4zM345 304h1v1h-1zM457 304h1v1h-1zM805 304h4v1h-4zM1038 304h3v1h-3zM346 305h1v1h-1zM456 305h1v1h-1zM809 305h4v1h-4zM1035 305h3v1h-3zM347 306h1v1h-1zM455 306h1v1h-1zM813 306h4v1h-4zM1033 306h2v1h-2zM347 307h1v1h-1zM454 307h1v1h-1zM817 307h2v1h-2zM1029 307h4v1h-4zM348 308h1v1h-1zM453 308h1v1h-1zM819 308h3v1h-3zM1025 308h4v1h-4zM349 309h1v1h-1zM451 309h2v1h-2zM822 309h3v1h-3zM1022 309h3v1h-3zM350 310h1v1h-1zM450 310h1v1h-1zM825 310h4v1h-4zM1019 310h3v1h-3zM350 311h1v1h-1zM449 311h1v1h-1zM829 311h4v1h-4zM1017 311h2v1h-2zM351 312h1v1h-1zM448 312h1v1h-1zM833 312h2v1h-2zM1013 312h4v1h-4zM352 313h1v1h-1zM447 313h1v1h-1zM835 313h3v1h-3zM1009 313h4v1h-4zM353 314h1v1h-1zM445 314h2v1h-2zM838 314h2v1h-2zM1005 314h4v1h-4zM354 315h1v1h-1zM444 315h1v1h-1zM840 315h2v1h-2zM1001 315h4v1h-4zM355 316h1v1h-1zM443 316h1v1h-1zM842 316h2v1h-2zM995 316h6v1h-6zM355 317h1v1h-1zM441 317h2v1h-2zM844 317h2v1h-2zM989 317h6v1h-6zM356 318h1v1h-1zM440 318h1v1h-1zM846 318h3v1h-3zM985 318h4v1h-4zM357 319h1v1h-1zM439 319h1v1h-1zM849 319h2v1h-2zM982 319h3v1h-3zM358 320h1v1h-1zM437 320h2v1h-2zM851 320h3v1h-3zM979 320h3v1h-3zM359 321h2v1h-2zM435 321h2v1h-2zM854 321h5v1h-5zM977 321h2v1h-2zM361 322h2v1h-2zM434 322h1v1h-1zM859 322h6v1h-6zM973 322h4v1h-4zM363 323h3v1h-3zM432 323h2v1h-2zM865 323h4v1h-4zM969 323h4v1h-4zM366 324h2v1h-2zM430 324h2v1h-2zM869 324h4v1h-4zM965 324h4v1h-4zM368 325h2v1h-2zM427 325h3v1h-3zM873 325h4v1h-4zM961 325h4v1h-4zM370 326h2v1h-2zM425 326h2v1h-2zM877 326h4v1h-4zM957 326h4v1h-4zM372 327h2v1h-2zM422 327h3v1h-3zM881 327h4v1h-4zM953 327h4v1h-4zM374 328h3v1h-3zM419 328h3v1h-3zM885 328h3v1h-3zM950 328h3v1h-3zM377 329h2v1h-2zM417 329h2v1h-2zM888 329h2v1h-2zM947 329h3v1h-3zM379 330h3v1h-3zM413 330h4v1h-4zM890 330h2v1h-2zM945 330h2v1h-2zM382 331h5v1h-5zM409 331h4v1h-4zM892 331h2v1h-2zM941 331h4v1h-4zM387 332h22v1h-22zM894 332h3v1h-3zM923 332h8v1h-8zM937 332h4v1h-4zM897 333h4v1h-4zM915 333h8v1h-8zM931 333h6v1h-6zM901 334h14v1h-14z"/>
<path fill="#ff0000" shape-rendering="crispEdges" d="M150 153h3v1h-3zM147 154h3v1h-3zM153 154h4v1h-4zM163 154h6v1h-6zM145 155h2v1h-2zM157 155h6v1h-6zM169 155h2v1h-2zM139 156h6v1h-6zM171 156h3v1h-3zM135 157h4v1h-4zM174 157h2v1h-2zM133 158h2v1h-2zM176 158h2v1h-2zM132 159h1v1h-1zM178 159h1v1h-1zM131 160h1v1h-1zM179 160h2v1h-2zM129 161h2v1h-2zM181 161h2v1h-2zM128 162h1v1h-1zM183 162h2v1h-2zM126 163h2v1h-2zM185 163h4v1h-4zM124 164h2v1h-2zM189 164h4v1h-4zM122 165h2v1h-2zM193 165h4v1h-4zM120 166h2v1h-2zM197 166h14v1h-14zM119 167h1v1h-1zM211 167h5v1h-5zM118 168h1v1h-1zM216 168h1v1h-1zM117 169h1v1h-1zM217 169h1v1h-1zM115 170h2v1h-2zM218 170h1v1h-1zM114 171h1v1h-1zM219 171h1v1h-1zM113 172h1v1h-1zM219 172h1v1h-1zM112 173h1v1h-1zM220 173h1v1h-1zM111 174h1v1h-1zM221 174h1v1h-1zM110 175h1v1h-1zM222 175h1v1h-1zM109 176h1v1h-1zM223 176h1v1h-1zM108 177h1v1h-1zM224 177h1v1h-1zM62 178h11v1h-11zM107 178h1v1h-1zM225 178h1v1h-1zM59 179h3v1h-3zM73 179h4v1h-4zM106 179h1v1h-1zM226 179h1v1h-1zM57 180h2v1h-2zM77 180h6v1h-6zM105 180h1v1h-1zM227 180h1v1h-1zM51 181h6v1h-6zM83 181h8v1h-8zM104 181h1v1h-1zM228 181h1v1h-1zM47 182h4v1h-4zM91 182h13v1h-13zM229 182h1v1h-1zM45 183h2v1h-2zM230 183h1v1h-1zM43 184h2v1h-2zM231 184h1v1h-1zM42 185h1v1h-1zM232 185h1v1h-1zM40 186h2v1h-2zM233 186h1v1h-1zM39 187h1v1h-1zM234 187h1v1h-1zM38 188h1v1h-1zM235 188h1v1h-1zM37 189h1v1h-1zM236 189h1v1h-1zM36 190h1v1h-1zM237 190h1v1h-1zM35 191h1v1h-1zM238 191h1v1h-1zM35 192h1v1h-1zM239 192h1v1h-1zM34 193h1v1h-1zM240 193h1v1h-1zM33 194h1v1h-1zM241 194h1v1h-1zM32 195h1v1h-1zM241 195h1v1h-1zM31 196h1v1h-1zM242 196h1v1h-1zM30 197h1v1h-1zM243 197h1v1h-1zM30 198h1v1h-1zM244 198h1v1h-1zM29 199h1v1h-1zM245 199h1v1h-1zM29 200h1v1h-1zM245 200h1v1h-1zM28 201h1v1h-1zM246 201h1v1h-1zM27 202h1v1h-1zM247 202h1v1h-1zM27 203h1v1h-1zM248 203h1v1h-1zM26 204h1v1h-1zM248 204h1v1h-1zM25 205h1v1h-1zM249 205h1v1h-1zM25 206h1v1h-1zM250 206h1v1h-1zM24 207h1v1h-1zM250 207h1v1h-1zM24 208h1v1h-1zM251 208h1v1h-1zM23 209h1v1h-1zM252 209h1v1h-1zM22 210h1v1h-1zM252 210h1v1h-1zM21 211h1v1h-1zM253 211h1v1h-1zM21 212h1v1h-1zM254 212h1v1h-1zM20 213h1v1h-1zM254 213h1v1h-1zM19 214h1v1h-1zM255 214h1v1h-1zM18 215h1v1h-1zM256 215h1v1h-1zM17 216h1v1h-1zM256 216h1v1h-1zM17 217h1v1h-1zM257 217h1v1h-1zM16 218h1v1h-1zM257 218h1v1h-1zM15 219h1v1h-1zM258 219h1v1h-1zM14 220h1v1h-1zM258 220h1v1h-1zM14 221h1v1h-1zM259 221h1v1h-1zM13 222h1v1h-1zM259 222h1v1h-1zM13 223h1v1h-1zM260 223h1v1h-1zM12 224h1v1h-1zM260 224h1v1h-1zM12 225h1v1h-1zM261 225h1v1h-1zM11 226h1v1h-1zM261 226h1v1h-1zM11 227h1v1h-1zM262 227h1v1h-1zM10 228h1v1h-1zM262 228h1v1h-1zM9 229h1v1h-1zM263 229h1v1h-1zM8 230h1v1h-1zM264 230h1v1h-1zM7 231h1v1h-1zM264 231h1v1h-1zM6 232h1v1h-1zM265 232h1v1h-1zM265 233h1v1h-1zM266 234h1v1h-1zM583 234h2v1h-2zM266 235h1v1h-1zM581 235h2v1h-2zM585 235h2v1h-2zM267 236h1v1h-1zM579 236h2v1h-2zM587 236h3v1h-3zM268 237h1v1h-1zM578 237h1v1h-1zM590 237h5v1h-5zM268 238h1v1h-1zM576 238h2v1h-2zM595 238h5v1h-5zM269 239h1v1h-1zM574 239h2v1h-2zM600 239h2v1h-2zM269 240h1v1h-1zM571 240h3v1h-3zM602 240h2v1h-2zM270 241h1v1h-1zM569 241h2v1h-2zM604 241h2v1h-2zM270 242h1v1h-1zM566 242h3v1h-3zM606 242h10v1h-10zM271 243h1v1h-1zM564 243h2v1h-2zM616 243h1v1h-1zM272 244h1v1h-1zM562 244h2v1h-2zM617 244h1v1h-1zM272 245h1v1h-1zM560 245h2v1h-2zM618 245h1v1h-1zM273 246h1v1h-1zM558 246h2v1h-2zM619 246h2v1h-2zM273 247h1v1h-1zM555 247h3v1h-3zM621 247h1v1h-1zM274 248h1v1h-1zM478 248h19v1h-19zM553 248h2v1h-2zM622 248h1v1h-1zM275 249h1v1h-1zM476 249h2v1h-2zM497 249h2v1h-2zM550 249h3v1h-3zM623 249h1v1h-1zM275 250h1v1h-1zM474 250h2v1h-2zM499 250h3v1h-3zM547 250h3v1h-3zM624 250h2v1h-2zM276 251h1v1h-1zM472 251h2v1h-2zM502 251h5v1h-5zM545 251h2v1h-2zM626 251h1v1h-1zM277 252h1v1h-1zM471 252h1v1h-1zM507 252h8v1h-8zM543 252h2v1h-2zM627 252h2v1h-2zM277 253h1v1h-1zM470 253h1v1h-1zM515 253h6v1h-6zM541 253h2v1h-2zM629 253h2v1h-2zM278 254h1v1h-1zM469 254h1v1h-1zM521 254h2v1h-2zM539 254h2v1h-2zM631 254h1v1h-1zM278 255h1v1h-1zM469 255h1v1h-1zM523 255h3v1h-3zM538 255h1v1h-1zM632 255h2v1h-2zM279 256h1v1h-1zM468 256h1v1h-1zM526 256h5v1h-5zM536 256h2v1h-2zM634 256h1v1h-1zM280 257h1v1h-1zM467 257h1v1h-1zM531 257h5v1h-5zM635 257h2v1h-2zM280 258h1v1h-1zM466 258h1v1h-1zM637 258h2v1h-2zM281 259h1v1h-1zM465 259h1v1h-1zM639 259h2v1h-2zM281 260h1v1h-1zM465 260h1v1h-1zM641 260h2v1h-2zM282 261h1v1h-1zM464 261h1v1h-1zM643 261h3v1h-3zM283 262h1v1h-1zM463 262h1v1h-1zM646 262h2v1h-2zM283 263h1v1h-1zM462 263h1v1h-1zM648 263h1v1h-1zM284 264h1v1h-1zM462 264h1v1h-1zM649 264h1v1h-1zM285 265h1v1h-1zM461 265h1v1h-1zM650 265h1v1h-1zM285 266h1v1h-1zM461 266h1v1h-1zM651 266h1v1h-1zM286 267h1v1h-1zM460 267h1v1h-1zM651 267h1v1h-1zM286 268h1v1h-1zM460 268h1v1h-1zM652 268h1v1h-1zM287 269h1v1h-1zM459 269h1v1h-1zM653 269h1v1h-1zM288 270h1v1h-1zM459 270h1v1h-1zM654 270h1v1h-1zM289 271h1v1h-1zM458 271h1v1h-1zM655 271h1v1h-1zM289 272h1v1h-1zM458 272h1v1h-1zM656 272h1v1h-1zM290 273h1v1h-1zM457 273h1v1h-1zM657 273h1v1h-1zM291 274h1v1h-1zM457 274h1v1h-1zM658 274h1v1h-1zM292 275h1v1h-1zM456 275h1v1h-1zM659 275h1v1h-1zM293 276h1v1h-1zM456 276h1v1h-1zM660 276h1v1h-1zM1091 276h13v1h-13zM293 277h1v1h-1zM455 277h1v1h-1zM661 277h1v1h-1zM1085 277h6v1h-6zM1104 277h2v1h-2zM294 278h1v1h-1zM454 278h1v1h-1zM662 278h1v1h-1zM1081 278h4v1h-4zM1106 278h1v1h-1zM295 279h1v1h-1zM453 279h1v1h-1zM663 279h1v1h-1zM734 279h5v1h-5zM1079 279h2v1h-2zM1107 279h2v1h-2zM296 280h1v1h-1zM451 280h2v1h-2zM664 280h2v1h-2zM732 280h2v1h-2zM739 280h8v1h-8zM1077 280h2v1h-2zM1109 280h2v1h-2zM297 281h1v1h-1zM450 281h1v1h-1zM666 281h1v1h-1zM730 281h2v1h-2zM747 281h14v1h-14zM1075 281h2v1h-2zM1111 281h1v1h-1zM298 282h1v1h-1zM449 282h1v1h-1zM667 282h2v1h-2zM728 282h2v1h-2zM761 282h2v1h-2zM1074 282h1v1h-1zM1112 282h1v1h-1zM299 283h1v1h-1zM448 283h1v1h-1zM669 283h2v1h-2zM727 283h1v1h-1zM763 283h3v1h-3zM1072 283h2v1h-2zM1113 283h2v1h-2zM300 284h1v1h-1zM447 284h1v1h-1zM671 284h1v1h-1zM725 284h2v1h-2zM766 284h3v1h-3zM1070 284h2v1h-2zM1115 284h1v1h-1zM301 285h1v1h-1zM446 285h1v1h-1zM672 285h2v1h-2zM724 285h1v1h-1zM769 285h2v1h-2zM1068 285h2v1h-2zM1116 285h1v1h-1zM302 286h1v1h-1zM445 286h1v1h-1zM674 286h1v1h-1zM723 286h1v1h-1zM771 286h3v1h-3zM1066 286h2v1h-2zM1117 286h2v1h-2zM303 287h1v1h-1zM444 287h1v1h-1zM675 287h2v1h-2zM721 287h2v1h-2zM774 287h2v1h-2zM1064 287h2v1h-2zM1119 287h1v1h-1zM304 288h1v1h-1zM443 288h1v1h-1zM677 288h2v1h-2zM720 288h1v1h-1zM776 288h1v1h-1zM1062 288h2v1h-2zM304 289h1v1h-1zM442 289h1v1h-1zM679 289h1v1h-1zM719 289h1v1h-1zM777 289h1v1h-1zM1059 289h3v1h-3zM305 290h1v1h-1zM441 290h1v1h-1zM680 290h2v1h-2zM717 290h2v1h-2zM778 290h1v1h-1zM1057 290h2v1h-2zM306 291h1v1h-1zM440 291h1v1h-1zM682 291h2v1h-2zM715 291h2v1h-2zM779 291h2v1h-2zM1055 291h2v1h-2zM306 292h1v1h-1zM439 292h1v1h-1zM684 292h2v1h-2zM714 292h1v1h-1zM781 292h1v1h-1zM1053 292h2v1h-2zM307 293h1v1h-1zM438 293h1v1h-1zM686 293h2v1h-2zM712 293h2v1h-2zM782 293h1v1h-1zM1051 293h2v1h-2zM308 294h1v1h-1zM437 294h1v1h-1zM688 294h1v1h-1zM711 294h1v1h-1zM783 294h1v1h-1zM1050 294h1v1h-1zM308 295h1v1h-1zM437 295h1v1h-1zM689 295h1v1h-1zM709 295h2v1h-2zM784 295h1v1h-1zM1048 295h2v1h-2zM309 296h1v1h-1zM436 296h1v1h-1zM690 296h1v1h-1zM707 296h2v1h-2zM785 296h1v1h-1zM1047 296h1v1h-1zM310 297h1v1h-1zM435 297h1v1h-1zM691 297h1v1h-1zM706 297h1v1h-1zM785 297h1v1h-1zM1045 297h2v1h-2zM310 298h1v1h-1zM434 298h1v1h-1zM692 298h1v1h-1zM704 298h2v1h-2zM786 298h1v1h-1zM1044 298h1v1h-1zM311 299h1v1h-1zM433 299h1v1h-1zM693 299h1v1h-1zM701 299h3v1h-3zM787 299h1v1h-1zM1043 299h1v1h-1zM312 300h1v1h-1zM433 300h1v1h-1zM694 300h1v1h-1zM697 300h4v1h-4zM788 300h1v1h-1zM1041 300h2v1h-2zM313 301h1v1h-1zM432 301h1v1h-1zM695 301h2v1h-2zM789 301h1v1h-1zM1040 301h1v1h-1zM314 302h1v1h-1zM431 302h1v1h-1zM789 302h1v1h-1zM1039 302h1v1h-1zM315 303h1v1h-1zM430 303h1v1h-1zM790 303h1v1h-1zM1037 303h2v1h-2zM315 304h1v1h-1zM429 304h1v1h-1zM791 304h1v1h-1zM1035 304h2v1h-2zM316 305h1v1h-1zM429 305h1v1h-1zM792 305h1v1h-1zM1034 305h1v1h-1zM317 306h1v1h-1zM428 306h1v1h-1zM793 306h1v1h-1zM1032 306h2v1h-2zM318 307h1v1h-1zM427 307h1v1h-1zM794 307h1v1h-1zM1029 307h3v1h-3zM319 308h1v1h-1zM426 308h1v1h-1zM795 308h1v1h-1zM1025 308h4v1h-4zM320 309h1v1h-1zM425 309h1v1h-1zM796 309h1v1h-1zM1021 309h4v1h-4zM320 310h1v1h-1zM425 310h1v1h-1zM797 310h1v1h-1zM1017 310h4v1h-4zM321 311h1v1h-1zM424 311h1v1h-1zM798 311h1v1h-1zM1013 311h4v1h-4zM322 312h1v1h-1zM423 312h1v1h-1zM799 312h1v1h-1zM1009 312h4v1h-4zM322 313h1v1h-1zM422 313h1v1h-1zM800 313h2v1h-2zM1005 313h4v1h-4zM323 314h1v1h-1zM422 314h1v1h-1zM802 314h2v1h-2zM982 314h5v1h-5zM1001 314h4v1h-4zM324 315h1v1h-1zM421 315h1v1h-1zM804 315h2v1h-2zM955 315h14v1h-14zM979 315h3v1h-3zM987 315h14v1h-14zM324 316h1v1h-1zM420 316h1v1h-1zM806 316h3v1h-3zM950 316h5v1h-5zM969 316h4v1h-4zM977 316h2v1h-2zM325 317h1v1h-1zM419 317h1v1h-1zM809 317h2v1h-2zM947 317h3v1h-3zM973 317h4v1h-4zM326 318h1v1h-1zM419 318h1v1h-1zM811 318h3v1h-3zM945 318h2v1h-2zM326 319h1v1h-1zM418 319h1v1h-1zM814 319h2v1h-2zM939 319h6v1h-6zM327 320h1v1h-1zM417 320h1v1h-1zM816 320h1v1h-1zM931 320h8v1h-8zM328 321h1v1h-1zM416 321h1v1h-1zM817 321h1v1h-1zM925 321h6v1h-6zM329 322h1v1h-1zM416 322h1v1h-1zM818 322h1v1h-1zM921 322h4v1h-4zM330 323h1v1h-1zM415 323h1v1h-1zM819 323h2v1h-2zM919 323h2v1h-2zM331 324h1v1h-1zM414 324h1v1h-1zM821 324h1v1h-1zM917 324h2v1h-2zM332 325h1v1h-1zM413 325h1v1h-1zM822 325h1v1h-1zM916 325h1v1h-1zM333 326h1v1h-1zM413 326h1v1h-1zM823 326h1v1h-1zM915 326h1v1h-1zM334 327h1v1h-1zM412 327h1v1h-1zM824 327h1v1h-1zM913 327h2v1h-2zM335 328h1v1h-1zM411 328h1v1h-1zM825 328h1v1h-1zM912 328h1v1h-1zM336 329h1v1h-1zM410 329h1v1h-1zM826 329h1v1h-1zM910 329h2v1h-2zM337 330h1v1h-1zM409 330h1v1h-1zM827 330h1v1h-1zM907 330h3v1h-3zM338 331h1v1h-1zM409 331h1v1h-1zM828 331h1v1h-1zM905 331h2v1h-2zM339 332h1v1h-1zM408 332h1v1h-1zM829 332h1v1h-1zM902 332h3v1h-3zM340 333h1v1h-1zM407 333h1v1h-1zM830 333h1v1h-1zM900 333h2v1h-2zM341 334h1v1h-1zM406 334h1v1h-1zM831 334h1v1h-1zM898 334h2v1h-2zM342 335h1v1h-1zM406 335h1v1h-1zM832 335h2v1h-2zM896 335h2v1h-2zM343 336h1v1h-1zM405 336h1v1h-1zM834 336h1v1h-1zM894 336h2v1h-2zM343 337h1v1h-1zM404 337h1v1h-1zM835 337h2v1h-2zM891 337h3v1h-3zM344 338h1v1h-1zM403 338h1v1h-1zM837 338h2v1h-2zM889 338h2v1h-2zM344 339h1v1h-1zM403 339h1v1h-1zM839 339h1v1h-1zM885 339h4v1h-4zM345 340h1v1h-1zM402 340h1v1h-1zM840 340h2v1h-2zM881 340h4v1h-4zM345 341h1v1h-1zM401 341h1v1h-1zM842 341h2v1h-2zM877 341h4v1h-4zM346 342h1v1h-1zM400 342h1v1h-1zM844 342h2v1h-2zM861 342h6v1h-6zM873 342h4v1h-4zM346 343h1v1h-1zM400 343h1v1h-1zM846 343h5v1h-5zM857 343h4v1h-4zM867 343h6v1h-6zM347 344h1v1h-1zM399 344h1v1h-1zM851 344h6v1h-6zM347 345h1v1h-1zM397 345h2v1h-2zM348 346h1v1h-1zM396 346h1v1h-1zM348 347h1v1h-1zM395 347h1v1h-1zM349 348h1v1h-1zM393 348h2v1h-2zM349 349h1v1h-1zM392 349h1v1h-1zM350 350h1v1h-1zM391 350h1v1h-1zM350 351h1v1h-1zM390 351h1v1h-1zM351 352h1v1h-1zM389 352h1v1h-1zM351 353h1v1h-1zM388 353h1v1h-1zM352 354h1v1h-1zM387 354h1v1h-1zM352 355h1v1h-1zM387 355h1v1h-1zM353 356h1v1h-1zM386 356h1v1h-1zM354 357h1v1h-1zM385 357h1v1h-1zM355 358h1v1h-1zM384 358h1v1h-1zM355 359h1v1h-1zM383 359h1v1h-1zM356 360h1v1h-1zM381 360h2v1h-2zM357 361h1v1h-1zM379 361h2v1h-2zM358 362h1v1h-1zM378 362h1v1h-1zM358 363h1v1h-1zM376 363h2v1h-2zM359 364h17v1h-17z"/>
<path fill="#0000d0" shape-rendering="crispEdges" d="M159 116h1v1h-1zM158 117h1v1h-1zM160 117h1v1h-1zM157 118h1v1h-1zM161 118h1v1h-1zM155 119h2v1h-2zM161 119h1v1h-1zM154 120h1v1h-1zM162 120h1v1h-1zM153 121h1v1h-1zM163 121h1v1h-1zM152 122h1v1h-1zM164 122h1v1h-1zM151 123h1v1h-1zM165 123h1v1h-1zM150 124h1v1h-1zM165 124h1v1h-1zM150 125h1v1h-1zM166 125h1v1h-1zM149 126h1v1h-1zM167 126h1v1h-1zM149 127h1v1h-1zM168 127h1v1h-1zM148 128h1v1h-1zM168 128h1v1h-1zM148 129h1v1h-1zM169 129h1v1h-1zM147 130h1v1h-1zM169 130h1v1h-1zM146 131h1v1h-1zM170 131h1v1h-1zM146 132h1v1h-1zM170 132h1v1h-1zM145 133h1v1h-1zM171 133h1v1h-1zM145 134h1v1h-1zM171 134h1v1h-1zM144 135h1v1h-1zM172 135h1v1h-1zM144 136h1v1h-1zM172 136h1v1h-1zM143 137h1v1h-1zM173 137h1v1h-1zM143 138h1v1h-1zM173 138h1v1h-1zM142 139h1v1h-1zM174 139h1v1h-1zM142 140h1v1h-1zM174 140h1v1h-1zM141 141h1v1h-1zM175 141h1v1h-1zM141 142h1v1h-1zM175 142h1v1h-1zM140 143h1v1h-1zM176 143h1v1h-1zM140 144h1v1h-1zM176 144h1v1h-1zM139 145h1v1h-1zM177 145h1v1h-1zM139 146h1v1h-1zM177 146h1v1h-1zM138 147h1v1h-1zM178 147h1v1h-1zM138 148h1v1h-1zM178 148h1v1h-1zM137 149h1v1h-1zM179 149h1v1h-1zM137 150h1v1h-1zM179 150h1v1h-1zM136 151h1v1h-1zM180 151h1v1h-1zM136 152h1v1h-1zM180 152h1v1h-1zM135 153h1v1h-1zM181 153h1v1h-1zM135 154h1v1h-1zM181 154h1v1h-1zM134 155h1v1h-1zM182 155h1v1h-1zM134 156h1v1h-1zM182 156h1v1h-1zM67 157h5v1h-5zM133 157h1v1h-1zM183 157h1v1h-1zM62 158h5v1h-5zM72 158h1v1h-1zM133 158h1v1h-1zM183 158h1v1h-1zM60 159h2v1h-2zM73 159h1v1h-1zM132 159h1v1h-1zM183 159h1v1h-1zM58 160h2v1h-2zM74 160h1v1h-1zM132 160h1v1h-1zM184 160h1v1h-1zM56 161h2v1h-2zM75 161h2v1h-2zM131 161h1v1h-1zM184 161h1v1h-1zM55 162h1v1h-1zM77 162h1v1h-1zM131 162h1v1h-1zM185 162h1v1h-1zM53 163h2v1h-2zM78 163h1v1h-1zM131 163h1v1h-1zM185 163h1v1h-1zM52 164h1v1h-1zM79 164h1v1h-1zM130 164h1v1h-1zM185 164h1v1h-1zM51 165h1v1h-1zM80 165h1v1h-1zM130 165h1v1h-1zM186 165h1v1h-1zM49 166h2v1h-2zM80 166h1v1h-1zM129 166h1v1h-1zM186 166h1v1h-1zM48 167h1v1h-1zM81 167h1v1h-1zM129 167h1v1h-1zM187 167h1v1h-1zM47 168h1v1h-1zM82 168h1v1h-1zM128 168h1v1h-1zM187 168h1v1h-1zM46 169h1v1h-1zM82 169h1v1h-1zM128 169h1v1h-1zM187 169h1v1h-1zM45 170h1v1h-1zM83 170h1v1h-1zM127 170h1v1h-1zM188 170h1v1h-1zM44 171h1v1h-1zM84 171h1v1h-1zM127 171h1v1h-1zM188 171h1v1h-1zM43 172h1v1h-1zM84 172h1v1h-1zM125 172h2v1h-2zM189 172h1v1h-1zM43 173h1v1h-1zM85 173h1v1h-1zM123 173h2v1h-2zM189 173h1v1h-1zM42 174h1v1h-1zM86 174h1v1h-1zM122 174h1v1h-1zM189 174h1v1h-1zM41 175h1v1h-1zM86 175h1v1h-1zM120 175h2v1h-2zM190 175h1v1h-1zM40 176h1v1h-1zM87 176h1v1h-1zM119 176h1v1h-1zM190 176h1v1h-1zM39 177h1v1h-1zM88 177h1v1h-1zM118 177h1v1h-1zM191 177h1v1h-1zM38 178h1v1h-1zM88 178h1v1h-1zM117 178h1v1h-1zM191 178h1v1h-1zM38 179h1v1h-1zM89 179h1v1h-1zM116 179h1v1h-1zM191 179h1v1h-1zM37 180h1v1h-1zM90 180h1v1h-1zM115 180h1v1h-1zM192 180h1v1h-1zM36 181h1v1h-1zM91 181h1v1h-1zM114 181h1v1h-1zM192 181h1v1h-1zM35 182h1v1h-1zM91 182h1v1h-1zM113 182h1v1h-1zM193 182h1v1h-1zM35 183h1v1h-1zM92 183h1v1h-1zM112 183h1v1h-1zM193 183h1v1h-1zM34 184h1v1h-1zM93 184h1v1h-1zM111 184h1v1h-1zM194 184h1v1h-1zM33 185h1v1h-1zM94 185h1v1h-1zM110 185h1v1h-1zM194 185h1v1h-1zM32 186h1v1h-1zM94 186h1v1h-1zM110 186h1v1h-1zM195 186h1v1h-1zM32 187h1v1h-1zM95 187h1v1h-1zM109 187h1v1h-1zM195 187h1v1h-1zM31 188h1v1h-1zM96 188h1v1h-1zM108 188h1v1h-1zM195 188h1v1h-1zM30 189h1v1h-1zM97 189h1v1h-1zM108 189h1v1h-1zM196 189h1v1h-1zM29 190h1v1h-1zM98 190h1v1h-1zM107 190h1v1h-1zM196 190h1v1h-1zM28 191h1v1h-1zM99 191h1v1h-1zM106 191h1v1h-1zM197 191h1v1h-1zM27 192h1v1h-1zM99 192h1v1h-1zM106 192h1v1h-1zM197 192h1v1h-1zM26 193h1v1h-1zM100 193h1v1h-1zM105 193h1v1h-1zM198 193h1v1h-1zM25 194h1v1h-1zM101 194h1v1h-1zM104 194h1v1h-1zM198 194h1v1h-1zM24 195h1v1h-1zM102 195h1v1h-1zM104 195h1v1h-1zM199 195h1v1h-1zM6 196h5v1h-5zM19 196h5v1h-5zM103 196h1v1h-1zM199 196h1v1h-1zM583 196h1v1h-1zM11 197h8v1h-8zM200 197h1v1h-1zM582 197h1v1h-1zM584 197h2v1h-2zM200 198h1v1h-1zM581 198h1v1h-1zM586 198h1v1h-1zM201 199h1v1h-1zM581 199h1v1h-1zM587 199h2v1h-2zM201 200h1v1h-1zM580 200h1v1h-1zM589 200h2v1h-2zM202 201h1v1h-1zM579 201h1v1h-1zM591 201h1v1h-1zM202 202h1v1h-1zM578 202h1v1h-1zM591 202h1v1h-1zM203 203h1v1h-1zM577 203h1v1h-1zM592 203h1v1h-1zM203 204h1v1h-1zM577 204h1v1h-1zM592 204h1v1h-1zM204 205h1v1h-1zM576 205h1v1h-1zM593 205h1v1h-1zM204 206h1v1h-1zM574 206h2v1h-2zM593 206h1v1h-1zM205 207h1v1h-1zM571 207h3v1h-3zM593 207h1v1h-1zM205 208h1v1h-1zM569 208h2v1h-2zM594 208h1v1h-1zM206 209h1v1h-1zM567 209h2v1h-2zM594 209h1v1h-1zM206 210h1v1h-1zM566 210h1v1h-1zM594 210h1v1h-1zM207 211h1v1h-1zM565 211h1v1h-1zM595 211h1v1h-1zM208 212h1v1h-1zM565 212h1v1h-1zM595 212h1v1h-1zM209 213h1v1h-1zM564 213h1v1h-1zM596 213h1v1h-1zM210 214h1v1h-1zM563 214h1v1h-1zM596 214h1v1h-1zM211 215h2v1h-2zM562 215h1v1h-1zM596 215h1v1h-1zM213 216h1v1h-1zM561 216h1v1h-1zM597 216h1v1h-1zM214 217h1v1h-1zM561 217h1v1h-1zM597 217h1v1h-1zM215 218h1v1h-1zM560 218h1v1h-1zM597 218h1v1h-1zM216 219h1v1h-1zM559 219h1v1h-1zM598 219h1v1h-1zM217 220h2v1h-2zM559 220h1v1h-1zM598 220h1v1h-1zM219 221h1v1h-1zM558 221h1v1h-1zM599 221h1v1h-1zM220 222h1v1h-1zM558 222h1v1h-1zM599 222h1v1h-1zM221 223h2v1h-2zM557 223h1v1h-1zM599 223h1v1h-1zM223 224h1v1h-1zM557 224h1v1h-1zM600 224h1v1h-1zM224 225h2v1h-2zM556 225h1v1h-1zM600 225h1v1h-1zM226 226h1v1h-1zM556 226h1v1h-1zM601 226h1v1h-1zM227 227h2v1h-2zM555 227h1v1h-1zM601 227h1v1h-1zM229 228h2v1h-2zM555 228h1v1h-1zM601 228h1v1h-1zM231 229h4v1h-4zM555 229h1v1h-1zM602 229h1v1h-1zM235 230h13v1h-13zM554 230h1v1h-1zM602 230h1v1h-1zM248 231h1v1h-1zM453 231h4v1h-4zM554 231h1v1h-1zM602 231h1v1h-1zM248 232h1v1h-1zM449 232h4v1h-4zM457 232h4v1h-4zM553 232h1v1h-1zM603 232h1v1h-1zM249 233h1v1h-1zM443 233h6v1h-6zM461 233h3v1h-3zM553 233h1v1h-1zM603 233h1v1h-1zM250 234h1v1h-1zM439 234h4v1h-4zM464 234h1v1h-1zM552 234h1v1h-1zM604 234h1v1h-1zM250 235h1v1h-1zM438 235h1v1h-1zM465 235h2v1h-2zM552 235h1v1h-1zM604 235h1v1h-1zM251 236h1v1h-1zM437 236h1v1h-1zM467 236h1v1h-1zM551 236h1v1h-1zM604 236h1v1h-1zM252 237h1v1h-1zM436 237h1v1h-1zM468 237h1v1h-1zM551 237h1v1h-1zM605 237h1v1h-1zM252 238h1v1h-1zM435 238h1v1h-1zM469 238h2v1h-2zM551 238h1v1h-1zM605 238h1v1h-1zM253 239h1v1h-1zM434 239h1v1h-1zM471 239h1v1h-1zM550 239h1v1h-1zM605 239h1v1h-1zM254 240h1v1h-1zM433 240h1v1h-1zM472 240h2v1h-2zM550 240h1v1h-1zM606 240h1v1h-1zM254 241h1v1h-1zM432 241h1v1h-1zM474 241h1v1h-1zM549 241h1v1h-1zM606 241h1v1h-1zM255 242h1v1h-1zM431 242h1v1h-1zM475 242h2v1h-2zM549 242h1v1h-1zM607 242h1v1h-1zM256 243h1v1h-1zM430 243h1v1h-1zM477 243h2v1h-2zM548 243h1v1h-1zM607 243h1v1h-1zM256 244h1v1h-1zM429 244h1v1h-1zM479 244h1v1h-1zM548 244h1v1h-1zM607 244h1v1h-1zM257 245h1v1h-1zM427 245h2v1h-2zM480 245h1v1h-1zM548 245h1v1h-1zM608 245h1v1h-1zM258 246h1v1h-1zM426 246h1v1h-1zM481 246h1v1h-1zM547 246h1v1h-1zM608 246h1v1h-1zM258 247h1v1h-1zM425 247h1v1h-1zM481 247h1v1h-1zM547 247h1v1h-1zM609 247h1v1h-1zM259 248h1v1h-1zM424 248h1v1h-1zM482 248h1v1h-1zM546 248h1v1h-1zM609 248h1v1h-1zM260 249h1v1h-1zM423 249h1v1h-1zM483 249h1v1h-1zM546 249h1v1h-1zM609 249h1v1h-1zM260 250h1v1h-1zM422 250h1v1h-1zM484 250h1v1h-1zM546 250h1v1h-1zM610 250h1v1h-1zM261 251h1v1h-1zM422 251h1v1h-1zM485 251h1v1h-1zM545 251h1v1h-1zM610 251h1v1h-1zM262 252h1v1h-1zM421 252h1v1h-1zM485 252h1v1h-1zM545 252h1v1h-1zM611 252h1v1h-1zM262 253h1v1h-1zM421 253h1v1h-1zM486 253h1v1h-1zM544 253h1v1h-1zM611 253h1v1h-1zM263 254h1v1h-1zM420 254h1v1h-1zM487 254h1v1h-1zM544 254h1v1h-1zM611 254h1v1h-1zM263 255h1v1h-1zM419 255h1v1h-1zM488 255h1v1h-1zM543 255h1v1h-1zM612 255h1v1h-1zM264 256h1v1h-1zM419 256h1v1h-1zM489 256h1v1h-1zM543 256h1v1h-1zM612 256h1v1h-1zM264 257h1v1h-1zM418 257h1v1h-1zM490 257h1v1h-1zM543 257h1v1h-1zM613 257h1v1h-1zM265 258h1v1h-1zM417 258h1v1h-1zM491 258h1v1h-1zM542 258h1v1h-1zM613 258h1v1h-1zM1086 258h2v1h-2zM265 259h1v1h-1zM417 259h1v1h-1zM491 259h1v1h-1zM542 259h1v1h-1zM613 259h1v1h-1zM1071 259h2v1h-2zM1083 259h3v1h-3zM1088 259h2v1h-2zM265 260h1v1h-1zM416 260h1v1h-1zM492 260h1v1h-1zM541 260h1v1h-1zM614 260h1v1h-1zM1069 260h2v1h-2zM1073 260h4v1h-4zM1081 260h2v1h-2zM1090 260h1v1h-1zM266 261h1v1h-1zM416 261h1v1h-1zM493 261h1v1h-1zM541 261h1v1h-1zM614 261h1v1h-1zM1067 261h2v1h-2zM1077 261h4v1h-4zM1091 261h2v1h-2zM266 262h1v1h-1zM415 262h1v1h-1zM494 262h1v1h-1zM540 262h1v1h-1zM615 262h1v1h-1zM1066 262h1v1h-1zM1093 262h2v1h-2zM267 263h1v1h-1zM415 263h1v1h-1zM495 263h1v1h-1zM540 263h1v1h-1zM615 263h1v1h-1zM1064 263h2v1h-2zM1095 263h1v1h-1zM267 264h1v1h-1zM414 264h1v1h-1zM496 264h1v1h-1zM539 264h1v1h-1zM615 264h1v1h-1zM727 264h2v1h-2zM1063 264h1v1h-1zM1096 264h1v1h-1zM267 265h1v1h-1zM414 265h1v1h-1zM497 265h1v1h-1zM539 265h1v1h-1zM616 265h1v1h-1zM726 265h1v1h-1zM729 265h4v1h-4zM1061 265h2v1h-2zM1096 265h1v1h-1zM268 266h1v1h-1zM414 266h1v1h-1zM498 266h1v1h-1zM538 266h1v1h-1zM616 266h1v1h-1zM725 266h1v1h-1zM733 266h3v1h-3zM1059 266h2v1h-2zM1097 266h1v1h-1zM268 267h1v1h-1zM414 267h1v1h-1zM499 267h1v1h-1zM538 267h1v1h-1zM616 267h1v1h-1zM724 267h1v1h-1zM736 267h1v1h-1zM1058 267h1v1h-1zM1098 267h1v1h-1zM269 268h1v1h-1zM413 268h1v1h-1zM499 268h1v1h-1zM537 268h1v1h-1zM617 268h1v1h-1zM723 268h1v1h-1zM737 268h1v1h-1zM1056 268h2v1h-2zM1099 268h1v1h-1zM269 269h1v1h-1zM413 269h1v1h-1zM500 269h1v1h-1zM537 269h1v1h-1zM617 269h1v1h-1zM722 269h1v1h-1zM738 269h1v1h-1zM1055 269h1v1h-1zM1099 269h1v1h-1zM269 270h1v1h-1zM413 270h1v1h-1zM501 270h1v1h-1zM536 270h1v1h-1zM617 270h1v1h-1zM721 270h1v1h-1zM739 270h2v1h-2zM1054 270h1v1h-1zM1100 270h1v1h-1zM270 271h1v1h-1zM412 271h1v1h-1zM502 271h1v1h-1zM536 271h1v1h-1zM618 271h1v1h-1zM720 271h1v1h-1zM741 271h1v1h-1zM1053 271h1v1h-1zM1101 271h1v1h-1zM270 272h1v1h-1zM412 272h1v1h-1zM503 272h4v1h-4zM515 272h21v1h-21zM618 272h1v1h-1zM718 272h2v1h-2zM742 272h1v1h-1zM1052 272h1v1h-1zM1102 272h1v1h-1zM271 273h1v1h-1zM412 273h1v1h-1zM507 273h8v1h-8zM618 273h1v1h-1zM716 273h2v1h-2zM743 273h1v1h-1zM1051 273h1v1h-1zM1102 273h1v1h-1zM271 274h1v1h-1zM411 274h1v1h-1zM619 274h1v1h-1zM714 274h2v1h-2zM744 274h1v1h-1zM1051 274h1v1h-1zM1103 274h1v1h-1zM271 275h1v1h-1zM411 275h1v1h-1zM619 275h1v1h-1zM712 275h2v1h-2zM745 275h2v1h-2zM1050 275h1v1h-1zM1103 275h1v1h-1zM272 276h1v1h-1zM411 276h1v1h-1zM620 276h1v1h-1zM709 276h3v1h-3zM747 276h1v1h-1zM1049 276h1v1h-1zM1104 276h1v1h-1zM272 277h1v1h-1zM411 277h1v1h-1zM620 277h1v1h-1zM705 277h4v1h-4zM748 277h1v1h-1zM1048 277h1v1h-1zM1104 277h1v1h-1zM273 278h1v1h-1zM410 278h1v1h-1zM620 278h1v1h-1zM702 278h3v1h-3zM749 278h2v1h-2zM1047 278h1v1h-1zM1105 278h1v1h-1zM273 279h1v1h-1zM410 279h1v1h-1zM621 279h1v1h-1zM700 279h2v1h-2zM751 279h1v1h-1zM1046 279h1v1h-1zM1105 279h1v1h-1zM274 280h1v1h-1zM410 280h1v1h-1zM621 280h1v1h-1zM698 280h2v1h-2zM752 280h2v1h-2zM1045 280h1v1h-1zM1106 280h1v1h-1zM274 281h1v1h-1zM409 281h1v1h-1zM621 281h1v1h-1zM696 281h2v1h-2zM754 281h2v1h-2zM1045 281h1v1h-1zM1106 281h1v1h-1zM274 282h1v1h-1zM409 282h1v1h-1zM622 282h1v1h-1zM693 282h3v1h-3zM756 282h2v1h-2zM1044 282h1v1h-1zM1107 282h1v1h-1zM275 283h1v1h-1zM409 283h1v1h-1zM622 283h1v1h-1zM689 283h4v1h-4zM758 283h2v1h-2zM1043 283h1v1h-1zM1107 283h1v1h-1zM275 284h1v1h-1zM408 284h1v1h-1zM622 284h1v1h-1zM687 284h2v1h-2zM760 284h1v1h-1zM1042 284h1v1h-1zM1107 284h1v1h-1zM276 285h1v1h-1zM408 285h1v1h-1zM623 285h1v1h-1zM686 285h1v1h-1zM761 285h1v1h-1zM1041 285h1v1h-1zM1108 285h1v1h-1zM276 286h1v1h-1zM408 286h1v1h-1zM623 286h1v1h-1zM685 286h1v1h-1zM762 286h1v1h-1zM1041 286h1v1h-1zM1108 286h1v1h-1zM276 287h1v1h-1zM408 287h1v1h-1zM624 287h1v1h-1zM684 287h1v1h-1zM763 287h1v1h-1zM1040 287h1v1h-1zM1109 287h1v1h-1zM277 288h1v1h-1zM407 288h1v1h-1zM624 288h1v1h-1zM683 288h1v1h-1zM763 288h1v1h-1zM1039 288h1v1h-1zM1109 288h1v1h-1zM277 289h1v1h-1zM407 289h1v1h-1zM625 289h1v1h-1zM682 289h1v1h-1zM764 289h1v1h-1zM1038 289h1v1h-1zM1110 289h1v1h-1zM278 290h1v1h-1zM407 290h1v1h-1zM625 290h1v1h-1zM681 290h1v1h-1zM765 290h1v1h-1zM1037 290h1v1h-1zM1110 290h1v1h-1zM278 291h1v1h-1zM406 291h1v1h-1zM626 291h1v1h-1zM680 291h1v1h-1zM766 291h1v1h-1zM1036 291h1v1h-1zM1111 291h1v1h-1zM279 292h1v1h-1zM406 292h1v1h-1zM626 292h1v1h-1zM679 292h1v1h-1zM767 292h1v1h-1zM1035 292h1v1h-1zM1111 292h1v1h-1zM279 293h1v1h-1zM406 293h1v1h-1zM627 293h1v1h-1zM678 293h1v1h-1zM768 293h1v1h-1zM1034 293h1v1h-1zM1111 293h1v1h-1zM279 294h1v1h-1zM406 294h1v1h-1zM627 294h1v1h-1zM678 294h1v1h-1zM768 294h1v1h-1zM1033 294h1v1h-1zM1112 294h1v1h-1zM280 295h1v1h-1zM405 295h1v1h-1zM628 295h1v1h-1zM677 295h1v1h-1zM769 295h1v1h-1zM1032 295h1v1h-1zM1112 295h1v1h-1zM280 296h1v1h-1zM405 296h1v1h-1zM628 296h1v1h-1zM676 296h1v1h-1zM770 296h1v1h-1zM1029 296h3v1h-3zM1113 296h1v1h-1zM281 297h1v1h-1zM405 297h1v1h-1zM629 297h1v1h-1zM676 297h1v1h-1zM770 297h1v1h-1zM1025 297h4v1h-4zM1113 297h1v1h-1zM281 298h1v1h-1zM405 298h1v1h-1zM629 298h1v1h-1zM675 298h1v1h-1zM771 298h1v1h-1zM1023 298h2v1h-2zM1114 298h1v1h-1zM282 299h1v1h-1zM404 299h1v1h-1zM630 299h1v1h-1zM674 299h1v1h-1zM772 299h1v1h-1zM1022 299h1v1h-1zM1114 299h1v1h-1zM282 300h1v1h-1zM404 300h1v1h-1zM630 300h1v1h-1zM674 300h1v1h-1zM772 300h1v1h-1zM1022 300h1v1h-1zM1114 300h1v1h-1zM282 301h1v1h-1zM404 301h1v1h-1zM631 301h1v1h-1zM673 301h1v1h-1zM773 301h1v1h-1zM1021 301h1v1h-1zM1115 301h1v1h-1zM283 302h1v1h-1zM404 302h1v1h-1zM631 302h1v1h-1zM672 302h1v1h-1zM774 302h1v1h-1zM1021 302h1v1h-1zM1115 302h1v1h-1zM283 303h1v1h-1zM403 303h1v1h-1zM631 303h1v1h-1zM672 303h1v1h-1zM774 303h1v1h-1zM1020 303h1v1h-1zM1116 303h1v1h-1zM284 304h1v1h-1zM403 304h1v1h-1zM632 304h1v1h-1zM670 304h2v1h-2zM775 304h1v1h-1zM1019 304h1v1h-1zM1116 304h1v1h-1zM284 305h1v1h-1zM403 305h1v1h-1zM632 305h1v1h-1zM668 305h2v1h-2zM775 305h1v1h-1zM1019 305h1v1h-1zM1116 305h1v1h-1zM284 306h1v1h-1zM403 306h1v1h-1zM633 306h1v1h-1zM666 306h2v1h-2zM776 306h1v1h-1zM1018 306h1v1h-1zM1117 306h1v1h-1zM285 307h1v1h-1zM402 307h1v1h-1zM633 307h1v1h-1zM664 307h2v1h-2zM776 307h1v1h-1zM1017 307h1v1h-1zM1117 307h1v1h-1zM285 308h1v1h-1zM402 308h1v1h-1zM633 308h1v1h-1zM663 308h1v1h-1zM777 308h1v1h-1zM1017 308h1v1h-1zM1118 308h1v1h-1zM286 309h1v1h-1zM402 309h1v1h-1zM634 309h1v1h-1zM662 309h1v1h-1zM777 309h1v1h-1zM919 309h9v1h-9zM958 309h2v1h-2zM1016 309h1v1h-1zM1118 309h1v1h-1zM286 310h1v1h-1zM402 310h1v1h-1zM634 310h1v1h-1zM661 310h1v1h-1zM778 310h1v1h-1zM917 310h2v1h-2zM928 310h1v1h-1zM956 310h2v1h-2zM960 310h1v1h-1zM1016 310h1v1h-1zM1119 310h1v1h-1zM287 311h1v1h-1zM401 311h1v1h-1zM635 311h1v1h-1zM660 311h1v1h-1zM778 311h1v1h-1zM915 311h2v1h-2zM929 311h1v1h-1zM954 311h2v1h-2zM961 311h1v1h-1zM1013 311h3v1h-3zM1119 311h1v1h-1zM287 312h1v1h-1zM401 312h1v1h-1zM635 312h1v1h-1zM659 312h1v1h-1zM779 312h1v1h-1zM914 312h1v1h-1zM930 312h1v1h-1zM952 312h2v1h-2zM962 312h1v1h-1zM1009 312h4v1h-4zM288 313h1v1h-1zM401 313h1v1h-1zM635 313h1v1h-1zM659 313h1v1h-1zM779 313h1v1h-1zM912 313h2v1h-2zM931 313h2v1h-2zM950 313h2v1h-2zM963 313h2v1h-2zM1003 313h6v1h-6zM288 314h1v1h-1zM401 314h1v1h-1zM636 314h1v1h-1zM658 314h1v1h-1zM779 314h1v1h-1zM911 314h1v1h-1zM933 314h1v1h-1zM948 314h2v1h-2zM965 314h1v1h-1zM989 314h14v1h-14zM289 315h1v1h-1zM400 315h1v1h-1zM636 315h1v1h-1zM657 315h1v1h-1zM780 315h1v1h-1zM909 315h2v1h-2zM934 315h1v1h-1zM946 315h2v1h-2zM966 315h1v1h-1zM985 315h4v1h-4zM289 316h1v1h-1zM400 316h1v1h-1zM637 316h1v1h-1zM656 316h1v1h-1zM780 316h1v1h-1zM907 316h2v1h-2zM935 316h4v1h-4zM944 316h2v1h-2zM967 316h1v1h-1zM982 316h3v1h-3zM290 317h1v1h-1zM400 317h1v1h-1zM637 317h1v1h-1zM655 317h1v1h-1zM781 317h1v1h-1zM906 317h1v1h-1zM939 317h5v1h-5zM968 317h2v1h-2zM980 317h2v1h-2zM290 318h1v1h-1zM400 318h1v1h-1zM637 318h1v1h-1zM653 318h2v1h-2zM781 318h1v1h-1zM891 318h8v1h-8zM904 318h2v1h-2zM970 318h2v1h-2zM978 318h2v1h-2zM291 319h1v1h-1zM399 319h1v1h-1zM638 319h1v1h-1zM652 319h1v1h-1zM782 319h1v1h-1zM886 319h5v1h-5zM899 319h5v1h-5zM972 319h2v1h-2zM976 319h2v1h-2zM291 320h1v1h-1zM399 320h1v1h-1zM638 320h1v1h-1zM651 320h1v1h-1zM782 320h1v1h-1zM884 320h2v1h-2zM974 320h2v1h-2zM292 321h1v1h-1zM399 321h1v1h-1zM639 321h1v1h-1zM649 321h2v1h-2zM783 321h1v1h-1zM882 321h2v1h-2zM292 322h1v1h-1zM398 322h1v1h-1zM639 322h4v1h-4zM648 322h1v1h-1zM783 322h1v1h-1zM880 322h2v1h-2zM293 323h1v1h-1zM398 323h1v1h-1zM643 323h5v1h-5zM784 323h1v1h-1zM879 323h1v1h-1zM293 324h1v1h-1zM397 324h1v1h-1zM784 324h1v1h-1zM878 324h1v1h-1zM294 325h1v1h-1zM397 325h1v1h-1zM785 325h1v1h-1zM877 325h1v1h-1zM294 326h1v1h-1zM396 326h1v1h-1zM785 326h1v1h-1zM876 326h1v1h-1zM295 327h1v1h-1zM396 327h1v1h-1zM786 327h1v1h-1zM875 327h1v1h-1zM296 328h1v1h-1zM396 328h1v1h-1zM786 328h1v1h-1zM875 328h1v1h-1zM296 329h1v1h-1zM395 329h1v1h-1zM787 329h1v1h-1zM874 329h1v1h-1zM297 330h1v1h-1zM395 330h1v1h-1zM787 330h1v1h-1zM873 330h1v1h-1zM297 331h1v1h-1zM394 331h1v1h-1zM788 331h1v1h-1zM872 331h1v1h-1zM298 332h1v1h-1zM394 332h1v1h-1zM788 332h1v1h-1zM869 332h3v1h-3zM298 333h1v1h-1zM394 333h1v1h-1zM789 333h1v1h-1zM865 333h4v1h-4zM299 334h1v1h-1zM393 334h1v1h-1zM789 334h1v1h-1zM863 334h2v1h-2zM299 335h1v1h-1zM393 335h1v1h-1zM790 335h1v1h-1zM861 335h2v1h-2zM300 336h1v1h-1zM392 336h1v1h-1zM790 336h1v1h-1zM859 336h2v1h-2zM300 337h1v1h-1zM392 337h1v1h-1zM791 337h1v1h-1zM858 337h1v1h-1zM301 338h1v1h-1zM391 338h1v1h-1zM791 338h1v1h-1zM856 338h2v1h-2zM301 339h1v1h-1zM391 339h1v1h-1zM792 339h1v1h-1zM855 339h1v1h-1zM302 340h1v1h-1zM391 340h1v1h-1zM793 340h1v1h-1zM854 340h1v1h-1zM302 341h1v1h-1zM390 341h1v1h-1zM794 341h1v1h-1zM853 341h1v1h-1zM303 342h1v1h-1zM390 342h1v1h-1zM795 342h1v1h-1zM852 342h1v1h-1zM304 343h1v1h-1zM389 343h1v1h-1zM796 343h1v1h-1zM851 343h1v1h-1zM305 344h1v1h-1zM389 344h1v1h-1zM797 344h1v1h-1zM851 344h1v1h-1zM305 345h1v1h-1zM388 345h1v1h-1zM798 345h1v1h-1zM850 345h1v1h-1zM306 346h1v1h-1zM388 346h1v1h-1zM799 346h1v1h-1zM849 346h1v1h-1zM307 347h1v1h-1zM387 347h1v1h-1zM800 347h2v1h-2zM848 347h1v1h-1zM308 348h1v1h-1zM387 348h1v1h-1zM802 348h1v1h-1zM847 348h1v1h-1zM309 349h1v1h-1zM387 349h1v1h-1zM803 349h2v1h-2zM846 349h1v1h-1zM309 350h1v1h-1zM386 350h1v1h-1zM805 350h2v1h-2zM845 350h1v1h-1zM310 351h1v1h-1zM386 351h1v1h-1zM807 351h2v1h-2zM843 351h2v1h-2zM311 352h1v1h-1zM385 352h1v1h-1zM809 352h2v1h-2zM842 352h1v1h-1zM312 353h1v1h-1zM385 353h1v1h-1zM811 353h3v1h-3zM841 353h1v1h-1zM313 354h1v1h-1zM384 354h1v1h-1zM814 354h2v1h-2zM840 354h1v1h-1zM313 355h1v1h-1zM384 355h1v1h-1zM816 355h2v1h-2zM838 355h2v1h-2zM314 356h1v1h-1zM383 356h1v1h-1zM818 356h2v1h-2zM835 356h3v1h-3zM315 357h1v1h-1zM383 357h1v1h-1zM820 357h2v1h-2zM833 357h2v1h-2zM316 358h1v1h-1zM382 358h1v1h-1zM822 358h11v1h-11zM317 359h1v1h-1zM381 359h1v1h-1zM317 360h1v1h-1zM381 360h1v1h-1zM318 361h1v1h-1zM380 361h1v1h-1zM319 362h10v1h-10zM341 362h3v1h-3zM379 362h1v1h-1zM329 363h4v1h-4zM337 363h4v1h-4zM344 363h1v1h-1zM378 363h1v1h-1zM333 364h4v1h-4zM344 364h1v1h-1zM377 364h1v1h-1zM345 365h1v1h-1zM377 365h1v1h-1zM345 366h1v1h-1zM376 366h1v1h-1zM346 367h1v1h-1zM375 367h1v1h-1zM346 368h1v1h-1zM374 368h1v1h-1zM347 369h1v1h-1zM373 369h1v1h-1zM347 370h1v1h-1zM372 370h1v1h-1zM348 371h1v1h-1zM371 371h1v1h-1zM348 372h1v1h-1zM371 372h1v1h-1zM349 373h1v1h-1zM370 373h1v1h-1zM349 374h1v1h-1zM369 374h1v1h-1zM350 375h1v1h-1zM368 375h1v1h-1zM350 376h1v1h-1zM367 376h1v1h-1zM351 377h1v1h-1zM366 377h1v1h-1zM352 378h1v1h-1zM366 378h1v1h-1zM353 379h1v1h-1zM365 379h1v1h-1zM353 380h1v1h-1zM364 380h1v1h-1zM354 381h1v1h-1zM363 381h1v1h-1zM355 382h1v1h-1zM363 382h1v1h-1zM356 383h1v1h-1zM362 383h1v1h-1zM357 384h1v1h-1zM361 384h1v1h-1zM357 385h1v1h-1zM360 385h1v1h-1zM358 386h1v1h-1zM360 386h1v1h-1zM359 387h1v1h-1z"/>
<rect x="830" y="209" width="406" height="6" fill="#f93636" />
<rect x="828" y="304" width="412" height="6" fill="#98cc00" />
<rect x="785" y="405" width="459" height="3" fill="#2f8ee0" />
<polygon points="1132.8,28 1142.2,28 1137.5,33.2" fill="#c0c0c0"/>
</g>
<polygon points="13.5,33.8 17.1,38 10,38" fill="#000"/>
<text x="22.3" y="39" font-size="9.9" fill="#000" stroke="#000" stroke-width="0.18" textLength="68" lengthAdjust="spacingAndGlyphs" >AUDUSD-,Daily</text>
<text x="96.4" y="39" font-size="9.9" fill="#000" stroke="#000" stroke-width="0.18" textLength="141.7" lengthAdjust="spacingAndGlyphs" >0.70122 0.70158 0.70036 0.70146</text>
<defs>
<linearGradient id="gb" x1="0" y1="0" x2="0" y2="1"><stop offset="0" stop-color="#5252fa"/><stop offset="1" stop-color="#3030d8"/></linearGradient>
<linearGradient id="gp" x1="0" y1="0" x2="0" y2="1"><stop offset="0" stop-color="#3232d6"/><stop offset="0.55" stop-color="#1414c0"/><stop offset="1" stop-color="#0000a6"/></linearGradient>
<linearGradient id="gp2" gradientUnits="userSpaceOnUse" x1="0" y1="70.9" x2="0" y2="110.7"><stop offset="0" stop-color="#3232d6"/><stop offset="0.55" stop-color="#1414c0"/><stop offset="1" stop-color="#0000a6"/></linearGradient>
<linearGradient id="gs" x1="0" y1="0" x2="0" y2="1"><stop offset="0" stop-color="#ececec"/><stop offset="0.45" stop-color="#dcdcdc"/><stop offset="0.5" stop-color="#cfcfcf"/><stop offset="1" stop-color="#c8c8c8"/></linearGradient>
</defs>
<rect x="9" y="46.3" width="221" height="66.7" fill="#ffffff" />
<rect x="10" y="47.2" width="51.7" height="24" fill="url(#gb)" />
<rect x="10" y="47.2" width="51.7" height="1" fill="#2a2ad0" />
<rect x="10" y="47.2" width="1" height="24" fill="#2a2ad0" />
<rect x="177.2" y="47.1" width="51.7" height="24" fill="url(#gb)" />
<rect x="177.2" y="47.1" width="51.7" height="1" fill="#2a2ad0" />
<rect x="227.9" y="47.1" width="1" height="24" fill="#2a2ad0" />
<rect x="10" y="70.9" width="108.8" height="39.8" fill="url(#gp)" />
<rect x="121.1" y="70.9" width="107.8" height="39.8" fill="url(#gp)" />
<rect x="61.7" y="70.3" width="115.5" height="1" fill="#2424c8" />
<rect x="14" y="70.9" width="43.9" height="0.9" fill="#8c8cf4" />
<rect x="181.1" y="71" width="43.9" height="0.9" fill="#8c8cf4" />
<rect x="64.1" y="47.4" width="110.7" height="21.4" fill="#ffffff" stroke="#a6a6a6" stroke-width="1"/>
<rect x="65.3" y="48.6" width="19.6" height="18.9" fill="url(#gs)" />
<rect x="85" y="48" width="1" height="20.4" fill="#b0b0b0" />
<rect x="153.2" y="48" width="1" height="20.4" fill="#b0b0b0" />
<rect x="154.4" y="48.6" width="19.6" height="18.9" fill="url(#gs)" />
<polygon points="72.1,56.1 77.1,56.1 74.6,59.2" fill="#4a5ab8"/>
<polygon points="161,59.3 166.2,59.3 163.6,56" fill="#4a5ab8"/>
<text x="150" y="62" font-size="12.6" fill="#000" stroke="#000" stroke-width="0.18" textLength="24.2" lengthAdjust="spacingAndGlyphs" text-anchor="end" >1.00</text>
<text x="22" y="62.6" font-size="12.6" fill="#fff" textLength="26.6" lengthAdjust="spacingAndGlyphs" >SELL</text>
<text x="189.6" y="62.6" font-size="12.6" fill="#fff" textLength="25" lengthAdjust="spacingAndGlyphs" >BUY</text>
<text x="29.6" y="101.8" font-size="12" fill="#fff" textLength="24.6" lengthAdjust="spacingAndGlyphs" font-weight="bold" >0.70</text>
<text x="56.2" y="102.1" font-size="34.4" fill="#fff" textLength="37.5" lengthAdjust="spacingAndGlyphs" stroke="url(#gp2)" stroke-width="0.7">14</text>
<text x="96.8" y="85.6" font-size="11.6" fill="#fff" textLength="7.3" lengthAdjust="spacingAndGlyphs" font-weight="bold" >6</text>
<text x="139.5" y="101.8" font-size="12" fill="#fff" textLength="24.8" lengthAdjust="spacingAndGlyphs" font-weight="bold" >0.70</text>
<text x="167.2" y="102" font-size="34.4" fill="#fff" textLength="37.8" lengthAdjust="spacingAndGlyphs" stroke="url(#gp2)" stroke-width="0.7">16</text>
<text x="207.5" y="85.7" font-size="11.6" fill="#fff" textLength="7.8" lengthAdjust="spacingAndGlyphs" font-weight="bold" >4</text>
<rect x="1423" y="36" width="2" height="1" fill="#000" />
<text x="1427.6" y="40" font-size="9.9" fill="#000" stroke="#000" stroke-width="0.18" textLength="33" lengthAdjust="spacingAndGlyphs" >0.74130</text>
<rect x="1423" y="69" width="2" height="1" fill="#000" />
<text x="1427.6" y="73" font-size="9.9" fill="#000" stroke="#000" stroke-width="0.18" textLength="33" lengthAdjust="spacingAndGlyphs" >0.73750</text>
<rect x="1423" y="102" width="2" height="1" fill="#000" />
<text x="1427.6" y="106" font-size="9.9" fill="#000" stroke="#000" stroke-width="0.18" textLength="33" lengthAdjust="spacingAndGlyphs" >0.73380</text>
<rect x="1423" y="135" width="2" height="1" fill="#000" />
<text x="1427.6" y="139" font-size="9.9" fill="#000" stroke="#000" stroke-width="0.18" textLength="33" lengthAdjust="spacingAndGlyphs" >0.73010</text>
<rect x="1423" y="168" width="2" height="1" fill="#000" />
<text x="1427.6" y="172" font-size="9.9" fill="#000" stroke="#000" stroke-width="0.18" textLength="33" lengthAdjust="spacingAndGlyphs" >0.72640</text>
<rect x="1423" y="201" width="2" height="1" fill="#000" />
<text x="1427.6" y="205" font-size="9.9" fill="#000" stroke="#000" stroke-width="0.18" textLength="33" lengthAdjust="spacingAndGlyphs" >0.72270</text>
<rect x="1423" y="234" width="2" height="1" fill="#000" />
<text x="1427.6" y="238" font-size="9.9" fill="#000" stroke="#000" stroke-width="0.18" textLength="33" lengthAdjust="spacingAndGlyphs" >0.71900</text>
<rect x="1423" y="267" width="2" height="1" fill="#000" />
<text x="1427.6" y="271" font-size="9.9" fill="#000" stroke="#000" stroke-width="0.18" textLength="33" lengthAdjust="spacingAndGlyphs" >0.71530</text>
<rect x="1423" y="300" width="2" height="1" fill="#000" />
<text x="1427.6" y="304" font-size="9.9" fill="#000" stroke="#000" stroke-width="0.18" textLength="33" lengthAdjust="spacingAndGlyphs" >0.71160</text>
<rect x="1423" y="333" width="2" height="1" fill="#000" />
<text x="1427.6" y="337" font-size="9.9" fill="#000" stroke="#000" stroke-width="0.18" textLength="33" lengthAdjust="spacingAndGlyphs" >0.70790</text>
<rect x="1423" y="366" width="2" height="1" fill="#000" />
<text x="1427.6" y="370" font-size="9.9" fill="#000" stroke="#000" stroke-width="0.18" textLength="33" lengthAdjust="spacingAndGlyphs" >0.70420</text>
<rect x="1423" y="399" width="2" height="1" fill="#000" />
<text x="1427.6" y="403" font-size="9.9" fill="#000" stroke="#000" stroke-width="0.18" textLength="33" lengthAdjust="spacingAndGlyphs" >0.70050</text>
<rect x="1423" y="432" width="2" height="1" fill="#000" />
<text x="1427.6" y="436" font-size="9.9" fill="#000" stroke="#000" stroke-width="0.18" textLength="33" lengthAdjust="spacingAndGlyphs" >0.69680</text>
<rect x="1423" y="465" width="2" height="1" fill="#000" />
<text x="1427.6" y="469" font-size="9.9" fill="#000" stroke="#000" stroke-width="0.18" textLength="33" lengthAdjust="spacingAndGlyphs" >0.69310</text>
<rect x="1423" y="498" width="2" height="1" fill="#000" />
<text x="1427.6" y="502" font-size="9.9" fill="#000" stroke="#000" stroke-width="0.18" textLength="33" lengthAdjust="spacingAndGlyphs" >0.68940</text>
<rect x="1423" y="531" width="2" height="1" fill="#000" />
<text x="1427.6" y="535" font-size="9.9" fill="#000" stroke="#000" stroke-width="0.18" textLength="33" lengthAdjust="spacingAndGlyphs" >0.68570</text>
<rect x="1423" y="564" width="2" height="1" fill="#000" />
<text x="1427.6" y="568" font-size="9.9" fill="#000" stroke="#000" stroke-width="0.18" textLength="33" lengthAdjust="spacingAndGlyphs" >0.68200</text>
<rect x="1424" y="385" width="41" height="11" fill="#000" />
<text x="1428.2" y="394.1" font-size="9.9" fill="#fff" stroke="#fff" stroke-width="0.18" textLength="33" lengthAdjust="spacingAndGlyphs" >0.70146</text>
<clipPath id="c2"><rect x="7" y="570" width="1415" height="103"/></clipPath>
<g clip-path="url(#c2)">
<g shape-rendering="crispEdges">
<rect x="7" y="594" width="1" height="21" fill="#c0c0c0" />
<rect x="15" y="591" width="1" height="24" fill="#c0c0c0" />
<rect x="23" y="587" width="1" height="28" fill="#c0c0c0" />
<rect x="31" y="581" width="1" height="34" fill="#c0c0c0" />
<rect x="39" y="579" width="1" height="36" fill="#c0c0c0" />
<rect x="47" y="579" width="1" height="36" fill="#c0c0c0" />
<rect x="55" y="582" width="1" height="33" fill="#c0c0c0" />
<rect x="63" y="583" width="1" height="32" fill="#c0c0c0" />
<rect x="71" y="586" width="1" height="29" fill="#c0c0c0" />
<rect x="79" y="590" width="1" height="25" fill="#c0c0c0" />
<rect x="87" y="592" width="1" height="23" fill="#c0c0c0" />
<rect x="95" y="596" width="1" height="19" fill="#c0c0c0" />
<rect x="103" y="598" width="1" height="17" fill="#c0c0c0" />
<rect x="111" y="595" width="1" height="20" fill="#c0c0c0" />
<rect x="119" y="590" width="1" height="25" fill="#c0c0c0" />
<rect x="127" y="588" width="1" height="27" fill="#c0c0c0" />
<rect x="135" y="584" width="1" height="31" fill="#c0c0c0" />
<rect x="143" y="581" width="1" height="34" fill="#c0c0c0" />
<rect x="151" y="580" width="1" height="35" fill="#c0c0c0" />
<rect x="159" y="584" width="1" height="31" fill="#c0c0c0" />
<rect x="167" y="592" width="1" height="23" fill="#c0c0c0" />
<rect x="175" y="599" width="1" height="16" fill="#c0c0c0" />
<rect x="183" y="607" width="1" height="8" fill="#c0c0c0" />
<rect x="191" y="613" width="1" height="2" fill="#c0c0c0" />
<rect x="199" y="614" width="1" height="1" fill="#c0c0c0" />
<rect x="207" y="614" width="1" height="1" fill="#c0c0c0" />
<rect x="215" y="614" width="1" height="3" fill="#c0c0c0" />
<rect x="223" y="614" width="1" height="8" fill="#c0c0c0" />
<rect x="231" y="614" width="1" height="11" fill="#c0c0c0" />
<rect x="239" y="614" width="1" height="13" fill="#c0c0c0" />
<rect x="247" y="614" width="1" height="14" fill="#c0c0c0" />
<rect x="255" y="614" width="1" height="20" fill="#c0c0c0" />
<rect x="263" y="614" width="1" height="24" fill="#c0c0c0" />
<rect x="271" y="614" width="1" height="33" fill="#c0c0c0" />
<rect x="279" y="614" width="1" height="38" fill="#c0c0c0" />
<rect x="287" y="614" width="1" height="43" fill="#c0c0c0" />
<rect x="295" y="614" width="1" height="46" fill="#c0c0c0" />
<rect x="303" y="614" width="1" height="46" fill="#c0c0c0" />
<rect x="311" y="614" width="1" height="48" fill="#c0c0c0" />
<rect x="319" y="614" width="1" height="48" fill="#c0c0c0" />
<rect x="327" y="614" width="1" height="48" fill="#c0c0c0" />
<rect x="335" y="614" width="1" height="47" fill="#c0c0c0" />
<rect x="343" y="614" width="1" height="47" fill="#c0c0c0" />
<rect x="351" y="614" width="1" height="53" fill="#c0c0c0" />
<rect x="359" y="614" width="1" height="53" fill="#c0c0c0" />
<rect x="367" y="614" width="1" height="42" fill="#c0c0c0" />
<rect x="375" y="614" width="1" height="35" fill="#c0c0c0" />
<rect x="383" y="614" width="1" height="25" fill="#c0c0c0" />
<rect x="391" y="614" width="1" height="18" fill="#c0c0c0" />
<rect x="399" y="614" width="1" height="10" fill="#c0c0c0" />
<rect x="407" y="614" width="1" height="3" fill="#c0c0c0" />
<rect x="415" y="611" width="1" height="4" fill="#c0c0c0" />
<rect x="423" y="606" width="1" height="9" fill="#c0c0c0" />
<rect x="431" y="603" width="1" height="12" fill="#c0c0c0" />
<rect x="439" y="600" width="1" height="15" fill="#c0c0c0" />
<rect x="447" y="600" width="1" height="15" fill="#c0c0c0" />
<rect x="455" y="600" width="1" height="15" fill="#c0c0c0" />
<rect x="463" y="600" width="1" height="15" fill="#c0c0c0" />
<rect x="471" y="601" width="1" height="14" fill="#c0c0c0" />
<rect x="479" y="602" width="1" height="13" fill="#c0c0c0" />
<rect x="487" y="606" width="1" height="9" fill="#c0c0c0" />
<rect x="495" y="608" width="1" height="7" fill="#c0c0c0" />
<rect x="503" y="613" width="1" height="2" fill="#c0c0c0" />
<rect x="511" y="611" width="1" height="4" fill="#c0c0c0" />
<rect x="519" y="609" width="1" height="6" fill="#c0c0c0" />
<rect x="527" y="609" width="1" height="6" fill="#c0c0c0" />
<rect x="535" y="610" width="1" height="5" fill="#c0c0c0" />
<rect x="543" y="602" width="1" height="13" fill="#c0c0c0" />
<rect x="551" y="596" width="1" height="19" fill="#c0c0c0" />
<rect x="559" y="593" width="1" height="22" fill="#c0c0c0" />
<rect x="567" y="591" width="1" height="24" fill="#c0c0c0" />
<rect x="575" y="592" width="1" height="23" fill="#c0c0c0" />
<rect x="583" y="591" width="1" height="24" fill="#c0c0c0" />
<rect x="591" y="600" width="1" height="15" fill="#c0c0c0" />
<rect x="599" y="609" width="1" height="6" fill="#c0c0c0" />
<rect x="607" y="614" width="1" height="1" fill="#c0c0c0" />
<rect x="615" y="614" width="1" height="6" fill="#c0c0c0" />
<rect x="623" y="614" width="1" height="12" fill="#c0c0c0" />
<rect x="631" y="614" width="1" height="13" fill="#c0c0c0" />
<rect x="639" y="614" width="1" height="15" fill="#c0c0c0" />
<rect x="647" y="614" width="1" height="17" fill="#c0c0c0" />
<rect x="655" y="614" width="1" height="13" fill="#c0c0c0" />
<rect x="663" y="614" width="1" height="11" fill="#c0c0c0" />
<rect x="671" y="614" width="1" height="10" fill="#c0c0c0" />
<rect x="679" y="614" width="1" height="6" fill="#c0c0c0" />
<rect x="687" y="614" width="1" height="4" fill="#c0c0c0" />
<rect x="695" y="614" width="1" height="5" fill="#c0c0c0" />
<rect x="703" y="614" width="1" height="5" fill="#c0c0c0" />
<rect x="711" y="614" width="1" height="4" fill="#c0c0c0" />
<rect x="719" y="614" width="1" height="1" fill="#c0c0c0" />
<rect x="727" y="612" width="1" height="3" fill="#c0c0c0" />
<rect x="735" y="613" width="1" height="2" fill="#c0c0c0" />
<rect x="743" y="614" width="1" height="1" fill="#c0c0c0" />
<rect x="751" y="614" width="1" height="6" fill="#c0c0c0" />
<rect x="759" y="614" width="1" height="9" fill="#c0c0c0" />
<rect x="767" y="614" width="1" height="11" fill="#c0c0c0" />
<rect x="775" y="614" width="1" height="12" fill="#c0c0c0" />
<rect x="783" y="614" width="1" height="18" fill="#c0c0c0" />
<rect x="791" y="614" width="1" height="22" fill="#c0c0c0" />
<rect x="799" y="614" width="1" height="23" fill="#c0c0c0" />
<rect x="807" y="614" width="1" height="25" fill="#c0c0c0" />
<rect x="815" y="614" width="1" height="23" fill="#c0c0c0" />
<rect x="823" y="614" width="1" height="23" fill="#c0c0c0" />
<rect x="831" y="614" width="1" height="21" fill="#c0c0c0" />
<rect x="839" y="614" width="1" height="20" fill="#c0c0c0" />
<rect x="847" y="614" width="1" height="16" fill="#c0c0c0" />
<rect x="855" y="614" width="1" height="15" fill="#c0c0c0" />
<rect x="863" y="614" width="1" height="12" fill="#c0c0c0" />
<rect x="871" y="614" width="1" height="10" fill="#c0c0c0" />
<rect x="879" y="614" width="1" height="6" fill="#c0c0c0" />
<rect x="887" y="614" width="1" height="5" fill="#c0c0c0" />
<rect x="895" y="614" width="1" height="5" fill="#c0c0c0" />
<rect x="903" y="614" width="1" height="5" fill="#c0c0c0" />
<rect x="911" y="614" width="1" height="3" fill="#c0c0c0" />
<rect x="919" y="614" width="1" height="1" fill="#c0c0c0" />
<rect x="927" y="614" width="1" height="1" fill="#c0c0c0" />
<rect x="935" y="614" width="1" height="2" fill="#c0c0c0" />
<rect x="943" y="614" width="1" height="2" fill="#c0c0c0" />
<rect x="951" y="614" width="1" height="1" fill="#c0c0c0" />
<rect x="959" y="614" width="1" height="1" fill="#c0c0c0" />
<rect x="967" y="614" width="1" height="2" fill="#c0c0c0" />
<rect x="975" y="614" width="1" height="1" fill="#c0c0c0" />
<rect x="983" y="614" width="1" height="1" fill="#c0c0c0" />
<rect x="991" y="614" width="1" height="1" fill="#c0c0c0" />
<rect x="999" y="614" width="1" height="1" fill="#c0c0c0" />
<rect x="1007" y="613" width="1" height="2" fill="#c0c0c0" />
<rect x="1015" y="611" width="1" height="4" fill="#c0c0c0" />
<rect x="1023" y="607" width="1" height="8" fill="#c0c0c0" />
<rect x="1031" y="607" width="1" height="8" fill="#c0c0c0" />
<rect x="1039" y="604" width="1" height="11" fill="#c0c0c0" />
<rect x="1047" y="601" width="1" height="14" fill="#c0c0c0" />
<rect x="1055" y="599" width="1" height="16" fill="#c0c0c0" />
<rect x="1063" y="598" width="1" height="17" fill="#c0c0c0" />
<rect x="1071" y="597" width="1" height="18" fill="#c0c0c0" />
<rect x="1079" y="599" width="1" height="16" fill="#c0c0c0" />
<rect x="1087" y="601" width="1" height="14" fill="#c0c0c0" />
<rect x="1095" y="602" width="1" height="13" fill="#c0c0c0" />
<rect x="1103" y="606" width="1" height="9" fill="#c0c0c0" />
<rect x="1111" y="614" width="1" height="1" fill="#c0c0c0" />
<rect x="1119" y="614" width="1" height="9" fill="#c0c0c0" />
</g>
<path fill="#ff0000" shape-rendering="crispEdges" d="M54 582h3v1h-3zM60 582h3v1h-3zM66 582h3v1h-3zM72 582h3v1h-3zM78 582h3v1h-3zM43 583h2v1h-2zM48 583h3v1h-3zM84 583h3v1h-3zM90 583h1v1h-1zM37 584h2v1h-2zM42 584h1v1h-1zM91 584h2v1h-2zM96 584h1v1h-1zM36 585h1v1h-1zM97 585h2v1h-2zM30 586h3v1h-3zM102 586h3v1h-3zM25 587h2v1h-2zM108 587h1v1h-1zM163 587h2v1h-2zM168 587h3v1h-3zM174 587h3v1h-3zM24 588h1v1h-1zM109 588h2v1h-2zM114 588h1v1h-1zM150 588h3v1h-3zM156 588h3v1h-3zM162 588h1v1h-1zM180 588h1v1h-1zM18 589h3v1h-3zM115 589h2v1h-2zM120 589h3v1h-3zM139 589h2v1h-2zM144 589h3v1h-3zM181 589h2v1h-2zM14 590h1v1h-1zM126 590h3v1h-3zM132 590h3v1h-3zM138 590h1v1h-1zM186 590h3v1h-3zM12 591h2v1h-2zM192 591h1v1h-1zM8 592h1v1h-1zM193 592h2v1h-2zM6 593h2v1h-2zM198 594h2v1h-2zM200 595h1v1h-1zM204 597h2v1h-2zM588 597h3v1h-3zM594 597h3v1h-3zM600 597h3v1h-3zM206 598h1v1h-1zM582 598h3v1h-3zM606 598h3v1h-3zM612 599h1v1h-1zM210 600h2v1h-2zM577 600h2v1h-2zM613 600h2v1h-2zM1092 600h3v1h-3zM1098 600h3v1h-3zM1104 600h3v1h-3zM212 601h1v1h-1zM480 601h3v1h-3zM486 601h3v1h-3zM492 601h3v1h-3zM498 601h1v1h-1zM576 601h1v1h-1zM618 601h1v1h-1zM1086 601h3v1h-3zM1110 601h3v1h-3zM474 602h3v1h-3zM499 602h2v1h-2zM504 602h3v1h-3zM570 602h3v1h-3zM619 602h2v1h-2zM1075 602h2v1h-2zM1080 602h3v1h-3zM216 603h2v1h-2zM470 603h1v1h-1zM510 603h3v1h-3zM565 603h2v1h-2zM1069 603h2v1h-2zM1074 603h1v1h-1zM1116 603h2v1h-2zM218 604h1v1h-1zM468 604h2v1h-2zM516 604h3v1h-3zM522 604h1v1h-1zM564 604h1v1h-1zM624 604h2v1h-2zM1068 604h1v1h-1zM1118 604h1v1h-1zM523 605h2v1h-2zM528 605h3v1h-3zM558 605h3v1h-3zM626 605h1v1h-1zM1062 605h3v1h-3zM222 606h1v1h-1zM463 606h2v1h-2zM534 606h3v1h-3zM547 606h2v1h-2zM552 606h3v1h-3zM1057 606h2v1h-2zM223 607h1v1h-1zM462 607h1v1h-1zM540 607h3v1h-3zM546 607h1v1h-1zM630 607h2v1h-2zM1056 607h1v1h-1zM224 608h1v1h-1zM632 608h1v1h-1zM1050 608h3v1h-3zM458 609h1v1h-1zM1044 609h3v1h-3zM228 610h2v1h-2zM456 610h2v1h-2zM636 610h2v1h-2zM1038 610h3v1h-3zM230 611h1v1h-1zM638 611h1v1h-1zM1027 611h2v1h-2zM1032 611h3v1h-3zM451 612h2v1h-2zM1020 612h3v1h-3zM1026 612h1v1h-1zM234 613h1v1h-1zM450 613h1v1h-1zM642 613h1v1h-1zM1014 613h3v1h-3zM235 614h2v1h-2zM643 614h2v1h-2zM996 614h3v1h-3zM1002 614h3v1h-3zM1008 614h3v1h-3zM445 615h2v1h-2zM966 615h3v1h-3zM972 615h3v1h-3zM978 615h3v1h-3zM984 615h3v1h-3zM990 615h3v1h-3zM240 616h1v1h-1zM444 616h1v1h-1zM948 616h3v1h-3zM954 616h3v1h-3zM960 616h3v1h-3zM241 617h2v1h-2zM648 617h2v1h-2zM738 617h3v1h-3zM744 617h3v1h-3zM750 617h3v1h-3zM756 617h3v1h-3zM762 617h1v1h-1zM942 617h3v1h-3zM440 618h1v1h-1zM650 618h1v1h-1zM732 618h3v1h-3zM763 618h2v1h-2zM768 618h3v1h-3zM936 618h3v1h-3zM246 619h3v1h-3zM439 619h1v1h-1zM774 619h3v1h-3zM930 619h3v1h-3zM438 620h1v1h-1zM654 620h1v1h-1zM726 620h3v1h-3zM780 620h3v1h-3zM786 620h1v1h-1zM924 620h3v1h-3zM252 621h2v1h-2zM655 621h2v1h-2zM721 621h2v1h-2zM787 621h2v1h-2zM792 621h1v1h-1zM918 621h3v1h-3zM254 622h1v1h-1zM715 622h2v1h-2zM720 622h1v1h-1zM793 622h2v1h-2zM912 622h3v1h-3zM258 623h1v1h-1zM660 623h2v1h-2zM709 623h2v1h-2zM714 623h1v1h-1zM907 623h2v1h-2zM259 624h2v1h-2zM434 624h1v1h-1zM662 624h1v1h-1zM666 624h1v1h-1zM708 624h1v1h-1zM798 624h2v1h-2zM906 624h1v1h-1zM264 625h1v1h-1zM433 625h1v1h-1zM667 625h2v1h-2zM672 625h3v1h-3zM691 625h2v1h-2zM696 625h3v1h-3zM702 625h3v1h-3zM800 625h1v1h-1zM901 625h2v1h-2zM265 626h2v1h-2zM432 626h1v1h-1zM678 626h3v1h-3zM684 626h3v1h-3zM690 626h1v1h-1zM900 626h1v1h-1zM270 627h2v1h-2zM804 627h2v1h-2zM894 627h3v1h-3zM272 628h1v1h-1zM806 628h1v1h-1zM889 628h2v1h-2zM810 629h1v1h-1zM888 629h1v1h-1zM276 630h2v1h-2zM427 630h2v1h-2zM811 630h2v1h-2zM882 630h3v1h-3zM278 631h1v1h-1zM426 631h1v1h-1zM816 631h1v1h-1zM876 631h3v1h-3zM817 632h2v1h-2zM870 632h3v1h-3zM282 633h1v1h-1zM822 633h3v1h-3zM865 633h2v1h-2zM283 634h1v1h-1zM828 634h3v1h-3zM834 634h1v1h-1zM859 634h2v1h-2zM864 634h1v1h-1zM284 635h1v1h-1zM422 635h1v1h-1zM835 635h2v1h-2zM840 635h3v1h-3zM852 635h3v1h-3zM858 635h1v1h-1zM421 636h1v1h-1zM846 636h3v1h-3zM420 637h1v1h-1zM288 638h2v1h-2zM290 639h1v1h-1zM416 640h1v1h-1zM294 641h2v1h-2zM415 641h1v1h-1zM296 642h1v1h-1zM414 642h1v1h-1zM300 644h2v1h-2zM410 644h1v1h-1zM302 645h1v1h-1zM408 645h2v1h-2zM306 647h2v1h-2zM308 648h1v1h-1zM403 648h2v1h-2zM312 649h1v1h-1zM402 649h1v1h-1zM313 650h2v1h-2zM318 651h2v1h-2zM398 651h1v1h-1zM320 652h1v1h-1zM396 652h2v1h-2zM324 654h2v1h-2zM390 654h3v1h-3zM326 655h1v1h-1zM330 656h1v1h-1zM386 656h1v1h-1zM331 657h2v1h-2zM384 657h2v1h-2zM336 658h1v1h-1zM337 659h2v1h-2zM379 659h2v1h-2zM342 660h3v1h-3zM378 660h1v1h-1zM348 661h3v1h-3zM354 661h3v1h-3zM360 661h3v1h-3zM372 661h3v1h-3zM366 662h3v1h-3z"/>
</g>
<text x="11" y="582" font-size="9.9" fill="#000" stroke="#000" stroke-width="0.18" textLength="151.4" lengthAdjust="spacingAndGlyphs" >MACD(12,26,9) -0.000969 0.001097</text>
<text x="1426" y="580" font-size="9.9" fill="#000" stroke="#000" stroke-width="0.18" textLength="37.2" lengthAdjust="spacingAndGlyphs" >0.004694</text>
<rect x="1423" y="614" width="2" height="1" fill="#000" />
<rect x="1423" y="571" width="1" height="1" fill="#000" />
<rect x="1423" y="672" width="1" height="1" fill="#000" />
<rect x="1423" y="677" width="1" height="1" fill="#000" />
<text x="1426" y="618" font-size="9.9" fill="#000" stroke="#000" stroke-width="0.18" textLength="18.3" lengthAdjust="spacingAndGlyphs" >0.00</text>
<text x="1426" y="670" font-size="9.9" fill="#000" stroke="#000" stroke-width="0.18" textLength="36.7" lengthAdjust="spacingAndGlyphs" >-0.00639</text>
<clipPath id="c3"><rect x="7" y="676" width="1415" height="129"/></clipPath>
<g clip-path="url(#c3)">
<line x1="7" x2="1422" y1="715.5" y2="715.5" stroke="#c0c0c0" stroke-width="1" stroke-dasharray="3 3" shape-rendering="crispEdges"/>
<line x1="7" x2="1422" y1="766.5" y2="766.5" stroke="#c0c0c0" stroke-width="1" stroke-dasharray="3 3" shape-rendering="crispEdges"/>
<path fill="#1e90ff" shape-rendering="crispEdges" d="M31 718h2v1h-2zM30 719h1v1h-1zM33 719h2v1h-2zM135 719h1v1h-1zM29 720h1v1h-1zM35 720h3v1h-3zM134 720h1v1h-1zM136 720h2v1h-2zM27 721h2v1h-2zM38 721h2v1h-2zM133 721h1v1h-1zM138 721h2v1h-2zM26 722h1v1h-1zM40 722h2v1h-2zM133 722h1v1h-1zM140 722h2v1h-2zM25 723h1v1h-1zM42 723h2v1h-2zM132 723h1v1h-1zM142 723h3v1h-3zM547 723h5v1h-5zM24 724h1v1h-1zM44 724h2v1h-2zM118 724h2v1h-2zM131 724h1v1h-1zM145 724h2v1h-2zM543 724h4v1h-4zM552 724h2v1h-2zM23 725h1v1h-1zM46 725h2v1h-2zM116 725h2v1h-2zM120 725h2v1h-2zM130 725h1v1h-1zM147 725h3v1h-3zM542 725h1v1h-1zM554 725h2v1h-2zM21 726h2v1h-2zM48 726h1v1h-1zM114 726h2v1h-2zM122 726h1v1h-1zM129 726h1v1h-1zM150 726h2v1h-2zM542 726h1v1h-1zM556 726h2v1h-2zM20 727h1v1h-1zM48 727h1v1h-1zM112 727h2v1h-2zM123 727h2v1h-2zM129 727h1v1h-1zM152 727h1v1h-1zM541 727h1v1h-1zM558 727h5v1h-5zM1023 727h1v1h-1zM19 728h1v1h-1zM49 728h1v1h-1zM111 728h1v1h-1zM125 728h2v1h-2zM128 728h1v1h-1zM152 728h1v1h-1zM413 728h6v1h-6zM435 728h5v1h-5zM541 728h1v1h-1zM563 728h5v1h-5zM1022 728h1v1h-1zM1024 728h1v1h-1zM17 729h2v1h-2zM49 729h1v1h-1zM110 729h1v1h-1zM127 729h1v1h-1zM153 729h1v1h-1zM409 729h4v1h-4zM419 729h16v1h-16zM440 729h1v1h-1zM540 729h1v1h-1zM568 729h1v1h-1zM1021 729h1v1h-1zM1025 729h1v1h-1zM1039 729h18v1h-18zM1069 729h3v1h-3zM16 730h1v1h-1zM50 730h1v1h-1zM109 730h1v1h-1zM153 730h1v1h-1zM403 730h6v1h-6zM441 730h1v1h-1zM540 730h1v1h-1zM569 730h1v1h-1zM583 730h1v1h-1zM1020 730h1v1h-1zM1025 730h1v1h-1zM1038 730h1v1h-1zM1057 730h4v1h-4zM1065 730h4v1h-4zM1072 730h1v1h-1zM7 731h9v1h-9zM50 731h1v1h-1zM109 731h1v1h-1zM154 731h1v1h-1zM397 731h6v1h-6zM442 731h1v1h-1zM539 731h1v1h-1zM570 731h1v1h-1zM581 731h3v1h-3zM1019 731h1v1h-1zM1026 731h1v1h-1zM1037 731h1v1h-1zM1061 731h4v1h-4zM1073 731h1v1h-1zM51 732h1v1h-1zM108 732h1v1h-1zM155 732h1v1h-1zM393 732h4v1h-4zM443 732h2v1h-2zM454 732h2v1h-2zM539 732h1v1h-1zM571 732h2v1h-2zM579 732h2v1h-2zM584 732h1v1h-1zM726 732h2v1h-2zM1018 732h1v1h-1zM1027 732h1v1h-1zM1036 732h1v1h-1zM1074 732h1v1h-1zM51 733h1v1h-1zM63 733h2v1h-2zM107 733h1v1h-1zM155 733h1v1h-1zM389 733h4v1h-4zM445 733h1v1h-1zM451 733h3v1h-3zM456 733h2v1h-2zM538 733h1v1h-1zM573 733h1v1h-1zM578 733h1v1h-1zM584 733h1v1h-1zM724 733h2v1h-2zM728 733h1v1h-1zM879 733h1v1h-1zM918 733h2v1h-2zM1017 733h1v1h-1zM1028 733h1v1h-1zM1035 733h1v1h-1zM1075 733h2v1h-2zM52 734h1v1h-1zM62 734h1v1h-1zM65 734h4v1h-4zM106 734h1v1h-1zM156 734h1v1h-1zM385 734h4v1h-4zM446 734h1v1h-1zM449 734h2v1h-2zM458 734h1v1h-1zM538 734h1v1h-1zM574 734h1v1h-1zM576 734h2v1h-2zM585 734h1v1h-1zM722 734h2v1h-2zM729 734h1v1h-1zM878 734h1v1h-1zM880 734h1v1h-1zM916 734h2v1h-2zM920 734h1v1h-1zM1016 734h1v1h-1zM1029 734h1v1h-1zM1034 734h1v1h-1zM1077 734h1v1h-1zM52 735h1v1h-1zM61 735h1v1h-1zM69 735h3v1h-3zM105 735h1v1h-1zM157 735h1v1h-1zM382 735h3v1h-3zM447 735h2v1h-2zM459 735h2v1h-2zM511 735h10v1h-10zM537 735h1v1h-1zM575 735h1v1h-1zM585 735h1v1h-1zM720 735h2v1h-2zM729 735h1v1h-1zM877 735h1v1h-1zM881 735h2v1h-2zM914 735h2v1h-2zM920 735h1v1h-1zM1011 735h5v1h-5zM1029 735h1v1h-1zM1033 735h1v1h-1zM1078 735h1v1h-1zM53 736h1v1h-1zM59 736h2v1h-2zM72 736h2v1h-2zM105 736h1v1h-1zM157 736h1v1h-1zM379 736h3v1h-3zM461 736h2v1h-2zM510 736h1v1h-1zM521 736h2v1h-2zM537 736h1v1h-1zM585 736h1v1h-1zM679 736h9v1h-9zM717 736h3v1h-3zM730 736h1v1h-1zM876 736h1v1h-1zM883 736h1v1h-1zM912 736h2v1h-2zM921 736h1v1h-1zM1006 736h5v1h-5zM1030 736h1v1h-1zM1032 736h1v1h-1zM1079 736h10v1h-10zM53 737h1v1h-1zM58 737h1v1h-1zM74 737h2v1h-2zM104 737h1v1h-1zM158 737h1v1h-1zM377 737h2v1h-2zM463 737h4v1h-4zM510 737h1v1h-1zM523 737h3v1h-3zM536 737h1v1h-1zM586 737h1v1h-1zM678 737h1v1h-1zM688 737h1v1h-1zM713 737h4v1h-4zM731 737h1v1h-1zM875 737h1v1h-1zM884 737h1v1h-1zM911 737h1v1h-1zM922 737h1v1h-1zM975 737h2v1h-2zM1004 737h2v1h-2zM1031 737h1v1h-1zM1089 737h2v1h-2zM54 738h1v1h-1zM57 738h1v1h-1zM76 738h2v1h-2zM83 738h6v1h-6zM101 738h3v1h-3zM158 738h1v1h-1zM371 738h6v1h-6zM467 738h8v1h-8zM509 738h1v1h-1zM526 738h5v1h-5zM536 738h1v1h-1zM586 738h1v1h-1zM677 738h1v1h-1zM688 738h1v1h-1zM710 738h3v1h-3zM732 738h1v1h-1zM875 738h1v1h-1zM885 738h2v1h-2zM910 738h1v1h-1zM923 738h1v1h-1zM949 738h11v1h-11zM974 738h1v1h-1zM977 738h4v1h-4zM1002 738h2v1h-2zM1091 738h3v1h-3zM54 739h1v1h-1zM56 739h1v1h-1zM78 739h5v1h-5zM89 739h4v1h-4zM97 739h4v1h-4zM159 739h1v1h-1zM367 739h4v1h-4zM475 739h5v1h-5zM509 739h1v1h-1zM531 739h5v1h-5zM587 739h1v1h-1zM661 739h3v1h-3zM675 739h2v1h-2zM689 739h1v1h-1zM708 739h2v1h-2zM733 739h1v1h-1zM874 739h1v1h-1zM887 739h1v1h-1zM909 739h1v1h-1zM923 739h1v1h-1zM945 739h4v1h-4zM960 739h1v1h-1zM974 739h1v1h-1zM981 739h6v1h-6zM1000 739h2v1h-2zM1094 739h2v1h-2zM55 740h1v1h-1zM93 740h4v1h-4zM160 740h2v1h-2zM367 740h1v1h-1zM480 740h1v1h-1zM508 740h1v1h-1zM587 740h1v1h-1zM657 740h4v1h-4zM664 740h2v1h-2zM674 740h1v1h-1zM690 740h1v1h-1zM706 740h2v1h-2zM733 740h1v1h-1zM862 740h3v1h-3zM873 740h1v1h-1zM888 740h2v1h-2zM907 740h2v1h-2zM924 740h1v1h-1zM942 740h3v1h-3zM960 740h1v1h-1zM973 740h1v1h-1zM987 740h13v1h-13zM1096 740h1v1h-1zM162 741h2v1h-2zM366 741h1v1h-1zM481 741h1v1h-1zM495 741h1v1h-1zM508 741h1v1h-1zM587 741h1v1h-1zM655 741h2v1h-2zM666 741h2v1h-2zM673 741h1v1h-1zM691 741h1v1h-1zM704 741h2v1h-2zM734 741h1v1h-1zM859 741h3v1h-3zM865 741h4v1h-4zM872 741h1v1h-1zM890 741h1v1h-1zM906 741h1v1h-1zM925 741h1v1h-1zM940 741h2v1h-2zM961 741h1v1h-1zM972 741h1v1h-1zM1097 741h1v1h-1zM164 742h2v1h-2zM366 742h1v1h-1zM482 742h1v1h-1zM493 742h2v1h-2zM496 742h1v1h-1zM507 742h1v1h-1zM588 742h1v1h-1zM653 742h2v1h-2zM668 742h2v1h-2zM672 742h1v1h-1zM691 742h1v1h-1zM703 742h1v1h-1zM735 742h1v1h-1zM857 742h2v1h-2zM869 742h3v1h-3zM891 742h2v1h-2zM905 742h1v1h-1zM926 742h1v1h-1zM938 742h2v1h-2zM962 742h1v1h-1zM972 742h1v1h-1zM1098 742h1v1h-1zM166 743h2v1h-2zM365 743h1v1h-1zM483 743h2v1h-2zM491 743h2v1h-2zM497 743h1v1h-1zM507 743h1v1h-1zM588 743h1v1h-1zM652 743h1v1h-1zM670 743h2v1h-2zM692 743h1v1h-1zM701 743h2v1h-2zM736 743h1v1h-1zM831 743h1v1h-1zM846 743h11v1h-11zM893 743h2v1h-2zM904 743h1v1h-1zM926 743h1v1h-1zM936 743h2v1h-2zM963 743h1v1h-1zM971 743h1v1h-1zM1099 743h1v1h-1zM168 744h2v1h-2zM211 744h5v1h-5zM365 744h1v1h-1zM485 744h1v1h-1zM490 744h1v1h-1zM498 744h1v1h-1zM506 744h1v1h-1zM589 744h1v1h-1zM651 744h1v1h-1zM693 744h1v1h-1zM699 744h2v1h-2zM737 744h2v1h-2zM829 744h2v1h-2zM832 744h2v1h-2zM844 744h2v1h-2zM895 744h9v1h-9zM927 744h9v1h-9zM963 744h1v1h-1zM970 744h1v1h-1zM1099 744h1v1h-1zM170 745h2v1h-2zM203 745h8v1h-8zM216 745h1v1h-1zM364 745h1v1h-1zM486 745h1v1h-1zM488 745h2v1h-2zM499 745h1v1h-1zM506 745h1v1h-1zM589 745h1v1h-1zM649 745h2v1h-2zM694 745h1v1h-1zM698 745h1v1h-1zM739 745h1v1h-1zM827 745h2v1h-2zM834 745h2v1h-2zM842 745h2v1h-2zM964 745h1v1h-1zM970 745h1v1h-1zM1100 745h1v1h-1zM172 746h2v1h-2zM198 746h5v1h-5zM217 746h1v1h-1zM364 746h1v1h-1zM487 746h1v1h-1zM499 746h1v1h-1zM505 746h1v1h-1zM589 746h1v1h-1zM648 746h1v1h-1zM694 746h1v1h-1zM696 746h2v1h-2zM740 746h1v1h-1zM826 746h1v1h-1zM836 746h2v1h-2zM840 746h2v1h-2zM965 746h1v1h-1zM969 746h1v1h-1zM1101 746h1v1h-1zM174 747h2v1h-2zM196 747h2v1h-2zM218 747h1v1h-1zM363 747h1v1h-1zM500 747h1v1h-1zM505 747h1v1h-1zM590 747h1v1h-1zM645 747h3v1h-3zM695 747h1v1h-1zM741 747h2v1h-2zM759 747h4v1h-4zM815 747h4v1h-4zM824 747h2v1h-2zM838 747h2v1h-2zM966 747h1v1h-1zM968 747h1v1h-1zM1102 747h1v1h-1zM176 748h2v1h-2zM194 748h2v1h-2zM219 748h2v1h-2zM246 748h2v1h-2zM363 748h1v1h-1zM501 748h1v1h-1zM504 748h1v1h-1zM590 748h1v1h-1zM631 748h4v1h-4zM641 748h4v1h-4zM743 748h1v1h-1zM757 748h2v1h-2zM763 748h8v1h-8zM814 748h1v1h-1zM819 748h5v1h-5zM966 748h1v1h-1zM968 748h1v1h-1zM1103 748h1v1h-1zM178 749h2v1h-2zM192 749h2v1h-2zM221 749h1v1h-1zM243 749h3v1h-3zM248 749h1v1h-1zM362 749h1v1h-1zM502 749h1v1h-1zM504 749h1v1h-1zM591 749h1v1h-1zM630 749h1v1h-1zM635 749h6v1h-6zM744 749h2v1h-2zM755 749h2v1h-2zM771 749h5v1h-5zM813 749h1v1h-1zM967 749h1v1h-1zM1104 749h1v1h-1zM180 750h2v1h-2zM187 750h5v1h-5zM222 750h1v1h-1zM241 750h2v1h-2zM248 750h1v1h-1zM362 750h1v1h-1zM503 750h1v1h-1zM591 750h2v1h-2zM614 750h2v1h-2zM629 750h1v1h-1zM746 750h2v1h-2zM754 750h1v1h-1zM776 750h1v1h-1zM811 750h2v1h-2zM1104 750h1v1h-1zM182 751h5v1h-5zM223 751h18v1h-18zM249 751h1v1h-1zM361 751h1v1h-1zM593 751h4v1h-4zM611 751h3v1h-3zM616 751h2v1h-2zM627 751h2v1h-2zM748 751h2v1h-2zM752 751h2v1h-2zM777 751h1v1h-1zM810 751h1v1h-1zM1105 751h1v1h-1zM250 752h1v1h-1zM361 752h1v1h-1zM597 752h6v1h-6zM609 752h2v1h-2zM618 752h1v1h-1zM626 752h1v1h-1zM750 752h2v1h-2zM778 752h1v1h-1zM799 752h2v1h-2zM809 752h1v1h-1zM1105 752h1v1h-1zM250 753h1v1h-1zM360 753h1v1h-1zM603 753h6v1h-6zM619 753h2v1h-2zM625 753h1v1h-1zM779 753h1v1h-1zM797 753h2v1h-2zM801 753h4v1h-4zM808 753h1v1h-1zM1106 753h1v1h-1zM251 754h1v1h-1zM360 754h1v1h-1zM621 754h2v1h-2zM624 754h1v1h-1zM780 754h1v1h-1zM796 754h1v1h-1zM805 754h3v1h-3zM1106 754h1v1h-1zM252 755h1v1h-1zM359 755h1v1h-1zM623 755h1v1h-1zM781 755h1v1h-1zM795 755h1v1h-1zM1107 755h1v1h-1zM252 756h1v1h-1zM359 756h1v1h-1zM782 756h1v1h-1zM793 756h2v1h-2zM1108 756h1v1h-1zM253 757h1v1h-1zM359 757h1v1h-1zM783 757h4v1h-4zM792 757h1v1h-1zM1108 757h1v1h-1zM254 758h1v1h-1zM303 758h1v1h-1zM342 758h2v1h-2zM358 758h1v1h-1zM787 758h5v1h-5zM1109 758h1v1h-1zM254 759h1v1h-1zM259 759h5v1h-5zM302 759h1v1h-1zM304 759h2v1h-2zM339 759h3v1h-3zM344 759h1v1h-1zM358 759h1v1h-1zM1109 759h1v1h-1zM255 760h4v1h-4zM264 760h1v1h-1zM301 760h1v1h-1zM306 760h1v1h-1zM318 760h5v1h-5zM337 760h2v1h-2zM344 760h1v1h-1zM357 760h1v1h-1zM1110 760h1v1h-1zM265 761h1v1h-1zM299 761h2v1h-2zM307 761h2v1h-2zM315 761h3v1h-3zM323 761h14v1h-14zM345 761h1v1h-1zM357 761h1v1h-1zM1110 761h1v1h-1zM1115 761h5v1h-5zM266 762h1v1h-1zM298 762h1v1h-1zM309 762h2v1h-2zM313 762h2v1h-2zM345 762h1v1h-1zM356 762h1v1h-1zM1111 762h4v1h-4zM267 763h1v1h-1zM297 763h1v1h-1zM311 763h2v1h-2zM346 763h1v1h-1zM356 763h1v1h-1zM268 764h1v1h-1zM296 764h1v1h-1zM346 764h1v1h-1zM355 764h1v1h-1zM269 765h1v1h-1zM293 765h3v1h-3zM347 765h1v1h-1zM355 765h1v1h-1zM270 766h1v1h-1zM275 766h8v1h-8zM289 766h4v1h-4zM347 766h1v1h-1zM354 766h1v1h-1zM271 767h4v1h-4zM283 767h6v1h-6zM348 767h1v1h-1zM354 767h1v1h-1zM348 768h1v1h-1zM353 768h1v1h-1zM349 769h1v1h-1zM353 769h1v1h-1zM349 770h1v1h-1zM352 770h1v1h-1zM350 771h1v1h-1zM352 771h1v1h-1zM350 772h2v1h-2zM351 773h1v1h-1z"/>
</g>
<text x="11" y="688" font-size="9.9" fill="#000" stroke="#000" stroke-width="0.18" textLength="68.2" lengthAdjust="spacingAndGlyphs" >RSI(14) 33.7186</text>
<text x="1426" y="686" font-size="9.9" fill="#000" stroke="#000" stroke-width="0.18" textLength="15.0317" lengthAdjust="spacingAndGlyphs" >100</text>
<text x="1426" y="719" font-size="9.9" fill="#000" stroke="#000" stroke-width="0.18" textLength="10.0211" lengthAdjust="spacingAndGlyphs" >70</text>
<text x="1426" y="770" font-size="9.9" fill="#000" stroke="#000" stroke-width="0.18" textLength="10.0211" lengthAdjust="spacingAndGlyphs" >30</text>
<text x="1426" y="802" font-size="9.9" fill="#000" stroke="#000" stroke-width="0.18" textLength="5.01055" lengthAdjust="spacingAndGlyphs" >0</text>
<rect x="7" y="806" width="1" height="3" fill="#000" />
<text x="6.2" y="817.5" font-size="9.9" fill="#000" stroke="#000" stroke-width="0.18" textLength="54.1" lengthAdjust="spacingAndGlyphs" >13 Nov 2018</text>
<rect x="71" y="806" width="1" height="3" fill="#000" />
<text x="70.2" y="817.5" font-size="9.9" fill="#000" stroke="#000" stroke-width="0.18" textLength="54.3" lengthAdjust="spacingAndGlyphs" >22 Nov 2018</text>
<rect x="135" y="806" width="1" height="3" fill="#000" />
<text x="134.2" y="817.5" font-size="9.9" fill="#000" stroke="#000" stroke-width="0.18" textLength="47.1" lengthAdjust="spacingAndGlyphs" >2 Dec 2018</text>
<rect x="199" y="806" width="1" height="3" fill="#000" />
<text x="198.2" y="817.5" font-size="9.9" fill="#000" stroke="#000" stroke-width="0.18" textLength="51.4" lengthAdjust="spacingAndGlyphs" >11 Dec 2018</text>
<rect x="263" y="806" width="1" height="3" fill="#000" />
<text x="262.2" y="817.5" font-size="9.9" fill="#000" stroke="#000" stroke-width="0.18" textLength="51.9" lengthAdjust="spacingAndGlyphs" >20 Dec 2018</text>
<rect x="327" y="806" width="1" height="3" fill="#000" />
<text x="326.2" y="817.5" font-size="9.9" fill="#000" stroke="#000" stroke-width="0.18" textLength="51.9" lengthAdjust="spacingAndGlyphs" >30 Dec 2018</text>
<rect x="391" y="806" width="1" height="3" fill="#000" />
<text x="390.2" y="817.5" font-size="9.9" fill="#000" stroke="#000" stroke-width="0.18" textLength="45.1" lengthAdjust="spacingAndGlyphs" >8 Jan 2019</text>
<rect x="455" y="806" width="1" height="3" fill="#000" />
<text x="454.2" y="817.5" font-size="9.9" fill="#000" stroke="#000" stroke-width="0.18" textLength="49.9" lengthAdjust="spacingAndGlyphs" >17 Jan 2019</text>
<rect x="519" y="806" width="1" height="3" fill="#000" />
<text x="518.2" y="817.5" font-size="9.9" fill="#000" stroke="#000" stroke-width="0.18" textLength="49.6" lengthAdjust="spacingAndGlyphs" >27 Jan 2019</text>
<rect x="583" y="806" width="1" height="3" fill="#000" />
<text x="582.2" y="817.5" font-size="9.9" fill="#000" stroke="#000" stroke-width="0.18" textLength="46.6" lengthAdjust="spacingAndGlyphs" >5 Feb 2019</text>
<rect x="647" y="806" width="1" height="3" fill="#000" />
<text x="646.2" y="817.5" font-size="9.9" fill="#000" stroke="#000" stroke-width="0.18" textLength="51.4" lengthAdjust="spacingAndGlyphs" >14 Feb 2019</text>
<rect x="711" y="806" width="1" height="3" fill="#000" />
<text x="710.2" y="817.5" font-size="9.9" fill="#000" stroke="#000" stroke-width="0.18" textLength="52.8" lengthAdjust="spacingAndGlyphs" >24 Feb 2019</text>
<rect x="775" y="806" width="1" height="3" fill="#000" />
<text x="774.2" y="817.5" font-size="9.9" fill="#000" stroke="#000" stroke-width="0.18" textLength="47.8" lengthAdjust="spacingAndGlyphs" >5 Mar 2019</text>
<rect x="839" y="806" width="1" height="3" fill="#000" />
<text x="838.2" y="817.5" font-size="9.9" fill="#000" stroke="#000" stroke-width="0.18" textLength="52.1" lengthAdjust="spacingAndGlyphs" >14 Mar 2019</text>
<rect x="903" y="806" width="1" height="3" fill="#000" />
<text x="902.2" y="817.5" font-size="9.9" fill="#000" stroke="#000" stroke-width="0.18" textLength="52.1" lengthAdjust="spacingAndGlyphs" >24 Mar 2019</text>
<rect x="967" y="806" width="1" height="3" fill="#000" />
<text x="966.2" y="817.5" font-size="9.9" fill="#000" stroke="#000" stroke-width="0.18" textLength="45.9" lengthAdjust="spacingAndGlyphs" >2 Apr 2019</text>
<rect x="1031" y="806" width="1" height="3" fill="#000" />
<text x="1030.2" y="817.5" font-size="9.9" fill="#000" stroke="#000" stroke-width="0.18" textLength="50.9" lengthAdjust="spacingAndGlyphs" >11 Apr 2019</text>
<rect x="1095" y="806" width="1" height="3" fill="#000" />
<text x="1094.2" y="817.5" font-size="9.9" fill="#000" stroke="#000" stroke-width="0.18" textLength="50.9" lengthAdjust="spacingAndGlyphs" >22 Apr 2019</text>
<g shape-rendering="crispEdges">
<rect x="0" y="826" width="1466" height="27" fill="#f0f0f0" />
<rect x="2" y="826" width="1466" height="1" fill="#e3e3e3" />
<rect x="2" y="827" width="1466" height="1" fill="#ffffff" />
<rect x="2" y="828" width="1466" height="1" fill="#000" />
<rect x="4" y="829" width="1466" height="1" fill="#ffffff" />
<rect x="2" y="848" width="1466" height="1" fill="#ffffff" />
<rect x="2" y="828" width="1" height="18" fill="#a0a0a0" />
<rect x="3" y="828" width="1" height="18" fill="#696969" />
<rect x="115" y="829" width="1" height="18" fill="#ffffff" />
<rect x="116" y="828" width="108" height="19" fill="#000" />
<rect x="117" y="827" width="106" height="19" fill="#fff" />
<rect x="224" y="829" width="1" height="19" fill="#b8b8b8" />
<rect x="117" y="847" width="108" height="1" fill="#d4d4d4" />
<rect x="332" y="831" width="1" height="14" fill="#8a8a8a" />
<rect x="440" y="831" width="1" height="14" fill="#8a8a8a" />
<rect x="552" y="831" width="1" height="14" fill="#8a8a8a" />
<rect x="0" y="851" width="1466" height="1" fill="#d4d4d4" />
<rect x="0" y="852" width="1466" height="1" fill="#a0a0a0" />
</g>
<text x="19.3" y="842.8" font-size="12.7" fill="#7a7a7a" textLength="84.6" lengthAdjust="spacingAndGlyphs" >EURUSD-,Daily</text>
<text x="126" y="842.8" font-size="12.7" fill="#000" stroke="#000" stroke-width="0.12" textLength="86.6" lengthAdjust="spacingAndGlyphs" >AUDUSD-,Daily</text>
<text x="236.5" y="842.8" font-size="12.7" fill="#7a7a7a" textLength="84" lengthAdjust="spacingAndGlyphs" >USDCHF-,Daily</text>
<text x="344" y="842.8" font-size="12.7" fill="#7a7a7a" textLength="85" lengthAdjust="spacingAndGlyphs" >USDCAD-,Daily</text>
<text x="452.1" y="842.8" font-size="12.7" fill="#7a7a7a" textLength="88" lengthAdjust="spacingAndGlyphs" >USDCNH-,Daily</text>
<polygon points="1441.5,833.5 1441.5,840.5 1437.5,837" fill="#a0a0a0"/>
<polygon points="1456.5,833.5 1456.5,840.5 1460.5,837" fill="#a0a0a0"/>
</svg>
</body></html>
